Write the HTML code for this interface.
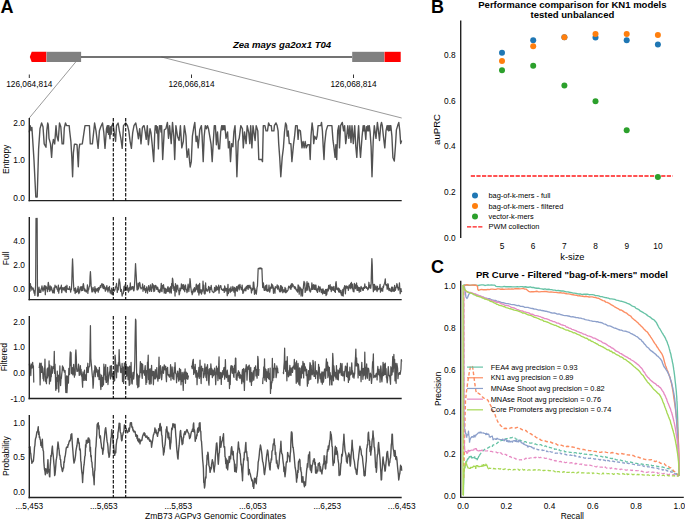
<!DOCTYPE html>
<html><head><meta charset="utf-8"><style>
html,body{margin:0;padding:0;background:#fff;width:685px;height:519px;overflow:hidden}
svg{display:block;font-family:"Liberation Sans", sans-serif}
</style></head><body>
<svg width="685" height="519" viewBox="0 0 685 519">
<rect width="685" height="519" fill="#fff"/>
<text x="0.4" y="12.9" font-size="18" text-anchor="start" font-weight="bold" fill="#000">A</text>
<polygon points="31.7,51.8 46.4,51.8 46.4,62 31.7,62 29.8,57" fill="#ff0000"/>
<rect x="46.6" y="51.8" width="34.5" height="10.2" fill="#808080"/>
<line x1="81" y1="57" x2="352.2" y2="57" stroke="#444" stroke-width="1.5"/>
<rect x="352.2" y="51.8" width="32" height="10.2" fill="#808080"/>
<rect x="384.5" y="51.8" width="16.2" height="10.2" fill="#ff0000"/>
<text x="282" y="48.2" font-size="9.55" text-anchor="middle" font-weight="bold" font-style="italic" fill="#000">Zea mays ga2ox1 T04</text>
<line x1="29.3" y1="74.5" x2="29.3" y2="78" stroke="#000" stroke-width="0.8"/>
<text x="29.3" y="86.5" font-size="8.3" text-anchor="middle" fill="#000">126,064,814</text>
<line x1="191.5" y1="74.5" x2="191.5" y2="78" stroke="#000" stroke-width="0.8"/>
<text x="191.5" y="86.5" font-size="8.3" text-anchor="middle" fill="#000">126,066,814</text>
<line x1="353.5" y1="74.5" x2="353.5" y2="78" stroke="#000" stroke-width="0.8"/>
<text x="353.5" y="86.5" font-size="8.3" text-anchor="middle" fill="#000">126,068,814</text>
<line x1="75.7" y1="62" x2="29.3" y2="118" stroke="#555" stroke-width="0.6"/>
<line x1="161.5" y1="57" x2="401.7" y2="118" stroke="#555" stroke-width="0.6"/>
<polyline points="29.30,132.34 30.20,125.61 31.10,130.47 31.90,127.48 33.30,149.14 34.00,160.35 35.80,196.95 37.20,196.95 38.60,149.14 40.00,128.60 41.60,123.00 43.00,126.73 44.20,143.92 46.00,147.28 46.80,130.47 47.70,123.00 48.30,124.87 49.00,138.31 50.50,143.92 51.60,157.36 52.40,145.41 53.40,139.43 54.70,143.92 56.00,125.61 56.90,136.07 58.20,140.93 59.50,123.00 60.80,126.73 62.10,143.92 63.50,143.92 64.30,127.86 65.50,123.00 66.50,125.61 69.20,125.61 69.60,130.47 70.90,141.67 71.80,156.61 72.60,176.78 73.40,152.88 74.40,144.29 75.70,144.29 77.00,144.66 78.30,166.70 79.00,149.14 79.70,144.29 82.30,143.92 83.20,137.94 85.00,125.61 89.40,125.61 90.30,143.92 92.40,143.92 94.60,123.00 96.00,130.84 98.10,148.40 99.40,130.84 100.80,126.73 102.50,123.00 103.80,132.52 105.00,148.40 106.50,128.60 107.30,125.61 107.70,132.34 108.10,125.61 108.50,134.20 108.90,125.61 109.30,132.34 110.00,138.69 110.40,128.60 110.70,126.73 111.10,134.20 111.40,132.34 111.80,125.61 112.10,125.61 113.00,123.00 114.30,132.52 115.60,141.30 116.50,125.61 118.10,123.00 119.30,130.47 120.90,138.69 122.20,148.40 123.50,125.61 125.70,123.00 127.50,125.61 128.80,130.84 130.10,141.30 131.40,148.40 132.70,132.52 134.00,125.61 135.80,123.00 137.50,132.52 138.40,138.69 139.70,128.60 141.00,143.92 142.40,127.48 143.70,125.61 144.10,125.60 145.20,131.96 146.20,139.38 147.30,125.60 148.40,144.68 150.00,128.78 151.00,133.02 152.10,143.62 153.70,161.64 154.70,134.08 155.30,125.60 155.80,129.84 156.30,125.60 156.80,133.02 157.30,126.66 157.80,134.08 158.40,148.92 159.00,130.90 159.50,125.60 160.00,128.78 160.50,125.60 161.00,131.96 161.60,125.60 162.70,159.52 164.30,129.84 165.90,128.78 167.40,122.42 168.50,138.32 169.60,125.60 171.20,143.62 172.50,122.42 173.80,136.20 174.70,159.52 175.90,125.60 177.50,136.20 179.10,140.44 180.40,125.60 181.80,147.86 183.30,141.50 184.40,125.60 186.00,136.20 186.50,148.92 187.10,157.40 188.60,148.92 189.20,157.40 190.20,166.95 191.30,161.64 192.40,136.20 193.90,126.66 194.80,122.42 196.10,141.50 197.10,136.20 198.20,147.86 199.80,129.84 201.40,125.60 202.10,136.20 203.20,161.64 204.20,136.20 205.30,125.60 206.40,128.78 207.40,125.60 208.50,128.78 210.10,138.32 211.10,144.68 212.20,161.64 213.30,141.50 214.30,125.60 215.40,125.60 216.40,144.68 217.50,131.96 218.60,148.92 219.60,148.92 220.70,131.96 221.70,125.60 222.30,129.84 222.80,125.60 223.30,129.31 223.80,125.60 224.40,129.84 224.90,125.60 226.00,138.32 227.60,131.96 228.40,147.86 229.50,141.50 230.50,161.64 231.60,143.62 232.90,146.80 233.90,131.96 235.00,125.60 236.00,146.80 236.90,176.80 238.20,141.50 239.20,138.32 240.80,125.60 242.40,128.78 243.30,147.86 244.50,131.96 246.10,143.62 247.20,125.60 248.80,133.02 249.80,143.62 250.70,125.60 251.90,147.86 253.00,125.60 255.10,140.44 256.20,125.60 257.80,130.90 258.80,159.52 261.70,159.52 262.50,161.64 263.30,125.60 264.90,125.60 266.00,130.90 267.50,130.90 268.60,122.95 269.70,125.60 271.30,125.60 271.80,130.90 273.90,130.90 274.40,125.60 276.00,122.95 277.10,125.60 278.10,130.90 278.70,143.62 279.70,157.40 280.80,176.80 282.20,157.40 283.40,147.86 284.50,131.96 285.60,122.95 286.60,125.60 287.20,136.20 288.20,130.90 289.30,143.62 290.90,143.62 291.90,161.64 293.50,144.68 294.60,136.20 295.60,125.60 297.20,125.60 298.10,139.38 298.80,129.84 300.40,130.90 302.00,147.86 303.10,141.50 304.10,147.86 305.20,141.50 306.20,147.86 307.80,144.68 309.40,144.68 310.20,159.52 311.00,136.20 312.10,122.95 313.10,130.90 313.70,143.62 314.70,136.20 316.30,139.38 317.10,136.20 318.10,125.60 320.80,125.60 321.50,122.42 322.40,130.90 323.20,146.80 324.00,159.52 324.70,143.62 326.10,130.90 327.70,125.60 331.90,125.60 333.00,140.44 334.00,147.86 335.10,157.40 335.90,144.68 336.70,159.52 337.70,130.90 338.80,125.60 339.50,147.86 340.60,125.60 342.30,122.42 343.60,130.90 344.60,125.60 345.70,143.62 346.70,136.20 347.80,125.60 348.90,138.32 349.90,125.60 351.00,142.56 352.00,125.60 353.30,143.62 354.70,125.60 355.80,146.80 356.80,157.40 357.90,136.20 358.60,125.60 359.70,146.80 360.50,157.40 362.10,136.20 363.20,125.60 363.80,130.90 364.40,125.60 365.10,131.96 365.80,139.38 366.50,126.66 367.20,130.90 367.90,125.60 368.60,130.90 369.30,125.60 370.10,131.96 371.10,146.80 372.00,176.80 373.20,141.50 374.30,125.60 376.00,138.32 377.40,122.42 378.10,127.72 379.50,140.44 380.70,125.60 381.50,122.42 382.30,125.60 383.40,136.20 384.80,147.86 386.00,130.90 387.10,125.60 387.60,129.84 388.10,125.60 388.70,130.90 389.20,125.60 389.80,130.37 390.30,125.60 390.80,125.60 391.90,136.20 392.90,157.40 394.30,161.11 395.40,146.80 396.40,129.84 397.70,125.60 398.80,122.42 399.80,130.90 400.70,143.62 401.60,140.44" fill="none" stroke="#525252" stroke-width="1.4" stroke-linejoin="round"/>
<line x1="29.3" y1="118" x2="29.3" y2="201.29999999999998" stroke="#222" stroke-width="1.4"/>
<line x1="28.6" y1="200.6" x2="401.7" y2="200.6" stroke="#222" stroke-width="1.4"/>
<text x="24.9" y="125.99999999999999" font-size="8.3" text-anchor="end" fill="#000">2.0</text>
<text x="24.9" y="163.35" font-size="8.3" text-anchor="end" fill="#000">1.0</text>
<text x="24.9" y="200.7" font-size="8.3" text-anchor="end" fill="#000">0.0</text>
<text x="9.0" y="159.3" font-size="8.5" text-anchor="middle" transform="rotate(-90 9.0 159.3)" fill="#000">Entropy</text>
<line x1="113.3" y1="118" x2="113.3" y2="200.6" stroke="#000" stroke-width="1.1" stroke-dasharray="3.5,1.5"/>
<line x1="125.7" y1="118" x2="125.7" y2="200.6" stroke="#000" stroke-width="1.1" stroke-dasharray="3.5,1.5"/>
<polyline points="29.30,288.61 29.67,289.16 30.05,291.14 30.42,283.59 30.79,287.82 31.16,286.24 31.54,286.86 31.91,290.08 32.28,288.30 32.65,287.98 33.03,287.98 33.40,288.92 33.77,291.05 34.15,293.14 34.52,290.76 34.89,295.48 35.26,290.80 35.64,285.00 36.01,218.40 36.38,218.54 36.76,220.01 37.13,218.40 37.50,296.04 37.87,294.87 38.25,296.03 38.62,289.43 38.99,287.09 39.36,292.29 39.74,289.81 40.11,292.37 40.48,290.68 40.86,292.45 41.23,288.59 41.60,288.25 41.97,285.76 42.35,288.89 42.72,290.03 43.09,291.27 43.47,287.76 43.84,289.52 44.21,285.79 44.58,289.86 44.96,285.63 45.33,294.64 45.70,289.23 46.07,286.32 46.45,288.34 46.82,287.72 47.19,287.84 47.57,291.61 47.94,285.74 48.31,282.42 48.68,284.63 49.06,289.34 49.43,288.29 49.80,291.30 50.18,285.84 50.55,288.54 50.92,290.05 51.29,286.87 51.67,288.14 52.04,289.57 52.41,291.66 52.78,292.90 53.16,290.52 53.53,292.74 53.90,287.96 54.28,293.02 54.65,288.55 55.02,285.08 55.39,286.71 55.77,286.35 56.14,287.49 56.51,286.26 56.89,288.41 57.26,289.51 57.63,289.22 58.00,291.46 58.38,285.08 58.75,293.11 59.12,288.32 59.49,289.86 59.87,288.95 60.24,287.37 60.61,287.55 60.99,288.76 61.36,285.21 61.73,292.66 62.10,290.28 62.48,288.40 62.85,287.61 63.22,288.10 63.60,289.87 63.97,289.37 64.34,287.46 64.71,289.53 65.09,291.19 65.46,286.46 65.83,286.34 66.20,292.50 66.58,288.79 66.95,285.25 67.32,289.16 67.70,288.66 68.07,289.28 68.44,289.45 68.81,288.53 69.19,289.30 69.56,286.65 69.93,289.66 70.31,289.09 70.68,292.06 71.05,289.25 71.42,289.55 71.80,281.83 72.17,268.46 72.54,258.85 72.91,266.71 73.29,279.76 73.66,286.53 74.03,290.75 74.41,289.94 74.78,288.68 75.15,293.51 75.52,287.77 75.90,291.58 76.27,292.47 76.64,291.83 77.01,291.38 77.39,288.99 77.76,291.73 78.13,286.38 78.51,292.02 78.88,293.68 79.25,289.94 79.62,292.15 80.00,287.93 80.37,287.03 80.74,286.85 81.12,289.50 81.49,290.74 81.86,286.67 82.23,288.63 82.61,290.44 82.98,285.50 83.35,283.55 83.72,285.72 84.10,288.86 84.47,291.00 84.84,288.98 85.22,290.65 85.59,291.29 85.96,290.09 86.33,292.11 86.71,290.46 87.08,289.67 87.45,284.81 87.83,293.32 88.20,289.29 88.57,289.88 88.94,287.94 89.32,286.31 89.69,286.12 90.06,276.43 90.43,271.52 90.81,278.62 91.18,285.64 91.55,288.69 91.93,291.85 92.30,291.88 92.67,289.94 93.04,287.26 93.42,289.98 93.79,289.45 94.16,291.54 94.54,290.92 94.91,286.69 95.28,293.03 95.65,289.16 96.03,288.87 96.40,289.21 96.77,291.04 97.14,288.83 97.52,288.44 97.89,288.37 98.26,292.21 98.64,287.55 99.01,290.04 99.38,288.80 99.75,287.79 100.13,286.40 100.50,285.53 100.87,287.72 101.25,284.95 101.62,284.73 101.99,283.56 102.36,284.67 102.74,287.34 103.11,288.23 103.48,284.33 103.85,288.68 104.23,285.99 104.60,286.80 104.97,288.34 105.35,291.19 105.72,290.38 106.09,287.84 106.46,286.90 106.84,285.66 107.21,289.69 107.58,289.73 107.96,291.90 108.33,287.54 108.70,290.09 109.07,288.70 109.45,286.31 109.82,290.98 110.19,292.87 110.56,290.45 110.94,293.09 111.31,293.90 111.68,288.09 112.06,289.85 112.43,294.53 112.80,290.14 113.17,289.76 113.55,290.69 113.92,290.45 114.29,291.10 114.66,289.51 115.04,289.78 115.41,286.84 115.78,286.85 116.16,286.39 116.53,283.47 116.90,287.87 117.27,292.49 117.65,289.17 118.02,287.74 118.39,289.81 118.77,282.43 119.14,278.78 119.51,280.81 119.88,282.68 120.26,286.93 120.63,291.48 121.00,289.74 121.37,289.38 121.75,292.40 122.12,296.04 122.49,294.15 122.87,293.64 123.24,293.71 123.61,290.56 123.98,286.47 124.36,289.70 124.73,290.75 125.10,284.95 125.48,287.93 125.85,290.16 126.22,287.20 126.59,287.55 126.97,290.23 127.34,285.39 127.71,288.52 128.08,290.15 128.46,292.14 128.83,288.16 129.20,290.79 129.58,287.43 129.95,287.77 130.32,282.96 130.69,289.94 131.07,287.06 131.44,288.69 131.81,289.09 132.19,286.53 132.56,286.99 132.93,286.58 133.30,289.32 133.68,290.92 134.05,290.12 134.42,285.97 134.79,280.33 135.17,271.90 135.54,263.55 135.91,270.21 136.29,276.50 136.66,284.73 137.03,289.81 137.40,289.89 137.78,289.98 138.15,283.13 138.52,288.74 138.90,284.24 139.27,285.92 139.64,282.47 140.01,283.85 140.39,287.52 140.76,287.87 141.13,288.92 141.50,287.77 141.88,287.90 142.25,287.93 142.62,284.00 143.00,291.29 143.37,288.05 143.74,289.32 144.11,287.21 144.49,285.55 144.86,290.35 145.23,288.65 145.61,292.52 145.98,288.68 146.35,290.70 146.72,286.88 147.10,289.44 147.47,293.19 147.84,290.14 148.21,290.08 148.59,285.58 148.96,288.72 149.33,288.79 149.71,291.43 150.08,287.31 150.45,284.88 150.82,287.82 151.20,289.95 151.57,291.48 151.94,287.62 152.32,283.52 152.69,287.97 153.06,284.51 153.43,286.73 153.81,291.53 154.18,285.57 154.55,291.06 154.92,289.10 155.30,286.32 155.67,285.30 156.04,286.25 156.42,287.32 156.79,289.45 157.16,289.41 157.53,287.08 157.91,288.14 158.28,291.50 158.65,290.84 159.02,289.94 159.40,292.54 159.77,290.50 160.14,292.02 160.52,289.08 160.89,288.39 161.26,283.40 161.63,291.15 162.01,291.70 162.38,285.45 162.75,288.21 163.13,287.44 163.50,284.62 163.87,288.13 164.24,293.13 164.62,291.51 164.99,288.20 165.36,288.43 165.73,293.33 166.11,292.84 166.48,289.07 166.85,289.54 167.23,291.27 167.60,287.66 167.97,286.67 168.34,291.73 168.72,289.92 169.09,287.81 169.46,290.34 169.84,292.89 170.21,289.19 170.58,286.90 170.95,286.44 171.33,293.05 171.70,283.33 172.07,288.60 172.44,278.19 172.82,279.48 173.19,284.37 173.56,286.76 173.94,290.36 174.31,286.98 174.68,288.87 175.05,296.04 175.43,283.70 175.80,285.11 176.17,285.89 176.55,291.98 176.92,286.77 177.29,285.71 177.66,285.27 178.04,289.17 178.41,290.21 178.78,290.26 179.15,294.78 179.53,293.88 179.90,288.07 180.27,290.94 180.65,289.82 181.02,288.60 181.39,283.85 181.76,286.17 182.14,288.46 182.51,284.96 182.88,288.34 183.26,289.39 183.63,284.63 184.00,290.18 184.37,287.13 184.75,291.61 185.12,285.96 185.49,285.02 185.86,288.70 186.24,289.30 186.61,289.87 186.98,292.67 187.36,291.18 187.73,287.31 188.10,284.20 188.47,286.39 188.85,291.57 189.22,287.27 189.59,287.37 189.97,278.57 190.34,281.51 190.71,286.47 191.08,289.11 191.46,292.30 191.83,291.99 192.20,294.73 192.57,291.06 192.95,293.00 193.32,289.14 193.69,291.10 194.07,289.70 194.44,287.73 194.81,291.90 195.18,289.65 195.56,290.96 195.93,287.08 196.30,284.19 196.67,287.15 197.05,289.34 197.42,285.91 197.79,292.05 198.17,284.83 198.54,290.71 198.91,295.06 199.28,285.28 199.66,283.34 200.03,292.92 200.40,289.73 200.78,290.37 201.15,289.78 201.52,294.08 201.89,292.27 202.27,290.21 202.64,291.17 203.01,281.22 203.38,289.36 203.76,285.23 204.13,293.11 204.50,290.89 204.88,294.09 205.25,293.16 205.62,282.94 205.99,290.45 206.37,288.69 206.74,289.89 207.11,291.42 207.49,290.04 207.86,290.93 208.23,288.96 208.60,286.49 208.98,286.79 209.35,290.05 209.72,292.57 210.09,287.70 210.47,289.61 210.84,288.19 211.21,285.32 211.59,288.98 211.96,290.34 212.33,291.59 212.70,291.84 213.08,291.99 213.45,292.43 213.82,292.59 214.20,291.69 214.57,287.41 214.94,290.03 215.31,291.11 215.69,291.06 216.06,285.52 216.43,290.18 216.80,286.56 217.18,289.39 217.55,287.65 217.92,289.81 218.30,287.93 218.67,285.13 219.04,293.11 219.41,288.43 219.79,287.12 220.16,287.14 220.53,285.62 220.91,285.88 221.28,289.25 221.65,288.47 222.02,289.74 222.40,289.56 222.77,290.42 223.14,289.34 223.51,290.24 223.89,288.75 224.26,292.43 224.63,285.98 225.01,287.16 225.38,288.84 225.75,291.01 226.12,289.95 226.50,288.33 226.87,289.83 227.24,295.63 227.62,289.21 227.99,284.26 228.36,293.71 228.73,289.38 229.11,290.10 229.48,290.47 229.85,288.31 230.22,292.50 230.60,290.01 230.97,286.76 231.34,291.19 231.72,291.05 232.09,289.68 232.46,289.64 232.83,286.45 233.21,290.62 233.58,288.69 233.95,292.17 234.33,287.30 234.70,290.32 235.07,296.04 235.44,288.07 235.82,290.18 236.19,290.34 236.56,286.59 236.93,291.10 237.31,291.25 237.68,286.70 238.05,288.08 238.43,285.15 238.80,287.03 239.17,289.83 239.54,286.74 239.92,284.36 240.29,286.64 240.66,287.19 241.03,288.64 241.41,289.77 241.78,289.74 242.15,285.17 242.53,289.77 242.90,293.41 243.27,292.41 243.64,292.23 244.02,289.35 244.39,290.41 244.76,289.18 245.14,287.79 245.51,290.69 245.88,290.79 246.25,286.67 246.63,288.74 247.00,286.83 247.37,285.49 247.74,286.18 248.12,289.41 248.49,285.45 248.86,287.04 249.24,287.70 249.61,286.14 249.98,285.25 250.35,288.30 250.73,287.22 251.10,289.25 251.47,292.84 251.85,289.47 252.22,288.76 252.59,290.05 252.96,289.10 253.34,282.15 253.71,282.22 254.08,286.53 254.45,294.26 254.83,288.46 255.20,293.09 255.57,290.25 255.95,290.25 256.32,294.14 256.69,290.85 257.06,287.16 257.44,286.20 257.81,277.38 258.18,268.56 258.56,268.47 258.93,268.25 259.30,268.15 259.67,268.90 260.05,267.95 260.42,268.31 260.79,268.21 261.16,268.86 261.54,268.26 261.91,268.56 262.28,277.98 262.66,287.40 263.03,287.56 263.40,282.98 263.77,286.29 264.15,290.30 264.52,288.27 264.89,290.33 265.27,286.48 265.64,285.64 266.01,287.71 266.38,290.67 266.76,284.94 267.13,290.84 267.50,289.33 267.87,291.36 268.25,290.66 268.62,289.85 268.99,285.23 269.37,289.63 269.74,292.09 270.11,290.16 270.48,287.70 270.86,286.80 271.23,288.03 271.60,283.97 271.98,288.02 272.35,284.89 272.72,285.39 273.09,287.02 273.47,293.27 273.84,288.21 274.21,289.58 274.58,289.46 274.96,293.09 275.33,286.62 275.70,288.16 276.08,287.57 276.45,287.02 276.82,286.95 277.19,284.97 277.57,289.07 277.94,287.62 278.31,285.82 278.68,287.60 279.06,289.84 279.43,290.72 279.80,291.86 280.18,290.22 280.55,285.70 280.92,291.75 281.29,285.80 281.67,287.96 282.04,290.58 282.41,287.10 282.79,292.65 283.16,291.94 283.53,291.02 283.90,289.75 284.28,290.93 284.65,291.81 285.02,287.37 285.39,292.60 285.77,288.60 286.14,292.57 286.51,290.54 286.89,291.65 287.26,291.35 287.63,290.54 288.00,290.23 288.38,287.71 288.75,286.15 289.12,286.33 289.50,287.45 289.87,287.14 290.24,288.84 290.61,285.33 290.99,289.30 291.36,284.00 291.73,287.49 292.10,283.62 292.48,286.32 292.85,284.45 293.22,285.68 293.60,286.01 293.97,286.80 294.34,288.15 294.71,286.55 295.09,288.76 295.46,287.21 295.83,288.80 296.21,289.95 296.58,290.17 296.95,291.20 297.32,289.49 297.70,292.04 298.07,284.91 298.44,288.17 298.81,285.92 299.19,294.17 299.56,288.59 299.93,287.16 300.31,289.66 300.68,288.18 301.05,296.04 301.42,289.22 301.80,292.96 302.17,289.87 302.54,296.03 302.92,289.18 303.29,288.66 303.66,283.98 304.03,281.44 304.41,284.80 304.78,282.86 305.15,292.45 305.52,291.60 305.90,288.25 306.27,290.56 306.64,285.21 307.02,281.70 307.39,286.81 307.76,290.17 308.13,283.84 308.51,283.19 308.88,286.07 309.25,286.57 309.63,290.88 310.00,290.19 310.37,292.00 310.74,290.97 311.12,288.20 311.49,289.38 311.86,282.95 312.23,287.71 312.61,289.49 312.98,285.48 313.35,284.64 313.73,286.35 314.10,289.46 314.47,286.35 314.84,284.87 315.22,289.43 315.59,289.01 315.96,285.20 316.34,290.40 316.71,290.99 317.08,289.37 317.45,292.36 317.83,288.36 318.20,288.98 318.57,286.22 318.94,287.38 319.32,291.72 319.69,288.09 320.06,286.86 320.44,289.13 320.81,289.34 321.18,292.28 321.55,292.29 321.93,289.16 322.30,293.01 322.67,294.00 323.04,288.92 323.42,290.72 323.79,290.62 324.16,293.38 324.54,292.51 324.91,293.36 325.28,290.40 325.65,289.48 326.03,295.55 326.40,289.41 326.77,294.53 327.15,291.40 327.52,289.26 327.89,288.74 328.26,290.93 328.64,285.26 329.01,289.11 329.38,287.32 329.75,287.06 330.13,284.70 330.50,289.31 330.87,287.00 331.25,291.53 331.62,286.90 331.99,290.32 332.36,288.92 332.74,287.04 333.11,289.18 333.48,290.42 333.86,286.40 334.23,289.18 334.60,291.29 334.97,289.60 335.35,292.45 335.72,283.47 336.09,281.53 336.46,285.44 336.84,289.49 337.21,288.29 337.58,289.92 337.96,288.30 338.33,288.03 338.70,291.87 339.07,289.16 339.45,288.85 339.82,292.29 340.19,290.25 340.57,292.99 340.94,290.42 341.31,294.99 341.68,292.39 342.06,295.63 342.43,293.60 342.80,289.36 343.17,296.04 343.55,290.43 343.92,287.75 344.29,287.97 344.67,285.63 345.04,288.47 345.41,293.79 345.78,287.36 346.16,285.85 346.53,286.30 346.90,288.13 347.28,286.33 347.65,288.00 348.02,287.34 348.39,290.31 348.77,286.66 349.14,285.08 349.51,287.52 349.88,284.96 350.26,288.68 350.63,283.51 351.00,287.32 351.38,282.44 351.75,286.67 352.12,288.67 352.49,284.12 352.87,289.26 353.24,291.40 353.61,289.58 353.99,291.81 354.36,283.35 354.73,285.29 355.10,284.83 355.48,288.66 355.85,285.74 356.22,284.99 356.59,282.99 356.97,290.34 357.34,285.71 357.71,286.46 358.09,290.44 358.46,287.56 358.83,287.90 359.20,292.09 359.58,287.63 359.95,289.02 360.32,288.35 360.69,291.42 361.07,286.40 361.44,287.82 361.81,288.42 362.19,287.86 362.56,290.16 362.93,288.63 363.30,290.30 363.68,287.27 364.05,287.89 364.42,288.35 364.80,283.99 365.17,287.73 365.54,287.70 365.91,287.24 366.29,286.60 366.66,288.28 367.03,287.96 367.40,287.81 367.78,289.92 368.15,288.65 368.52,288.93 368.90,282.25 369.27,285.33 369.64,287.09 370.01,287.97 370.39,285.04 370.76,288.28 371.13,284.24 371.51,268.81 371.88,258.64 372.25,264.96 372.62,282.57 373.00,285.58 373.37,291.62 373.74,284.56 374.11,289.91 374.49,284.33 374.86,290.04 375.23,289.11 375.61,289.03 375.98,285.99 376.35,289.86 376.72,289.98 377.10,291.52 377.47,286.25 377.84,290.16 378.22,288.74 378.59,288.55 378.96,289.09 379.33,288.88 379.71,286.65 380.08,284.36 380.45,292.15 380.82,290.03 381.20,289.76 381.57,288.20 381.94,290.90 382.32,289.23 382.69,291.21 383.06,286.42 383.43,287.66 383.81,285.37 384.18,284.24 384.55,283.47 384.93,281.53 385.30,278.96 385.67,284.43 386.04,285.32 386.42,284.53 386.79,285.22 387.16,289.25 387.53,288.91 387.91,283.62 388.28,284.55 388.65,289.13 389.03,290.72 389.40,289.83 389.77,288.32 390.14,290.16 390.52,290.15 390.89,291.33 391.26,291.64 391.64,287.11 392.01,289.54 392.38,291.17 392.75,287.16 393.13,289.59 393.50,290.75 393.87,291.33 394.24,291.46 394.62,285.30 394.99,287.83 395.36,290.46 395.74,288.54 396.11,287.33 396.48,287.03 396.85,283.65 397.23,284.75 397.60,287.85 397.97,287.28 398.35,290.08 398.72,288.48 399.09,287.59 399.46,282.76 399.84,288.95 400.21,293.59 400.58,289.94 400.95,288.62 401.33,291.74 401.70,290.75" fill="none" stroke="#525252" stroke-width="1.25" stroke-linejoin="round"/>
<line x1="29.3" y1="217" x2="29.3" y2="300.3" stroke="#222" stroke-width="1.4"/>
<line x1="28.6" y1="299.6" x2="401.7" y2="299.6" stroke="#222" stroke-width="1.4"/>
<text x="24.9" y="243.60000000000002" font-size="8.3" text-anchor="end" fill="#000">4.0</text>
<text x="24.9" y="267.6" font-size="8.3" text-anchor="end" fill="#000">2.0</text>
<text x="24.9" y="291.6" font-size="8.3" text-anchor="end" fill="#000">0.0</text>
<text x="9.0" y="258.3" font-size="8.5" text-anchor="middle" transform="rotate(-90 9.0 258.3)" fill="#000">Full</text>
<line x1="113.3" y1="217" x2="113.3" y2="299.6" stroke="#000" stroke-width="1.1" stroke-dasharray="3.5,1.5"/>
<line x1="125.7" y1="217" x2="125.7" y2="299.6" stroke="#000" stroke-width="1.1" stroke-dasharray="3.5,1.5"/>
<polyline points="29.30,365.41 29.67,363.12 30.05,367.54 30.42,368.11 30.79,375.57 31.16,365.71 31.54,364.24 31.91,368.12 32.28,364.24 32.65,362.37 33.03,367.56 33.40,365.80 33.77,382.10 34.15,381.94" fill="none" stroke="#525252" stroke-width="1.25" stroke-linejoin="round"/>
<polyline points="38.99,367.85 39.36,366.63 39.74,363.20 40.11,384.95 40.48,372.39 40.86,363.74 41.23,363.22 41.60,372.46 41.97,366.04 42.35,366.75 42.72,372.25 43.09,378.63 43.47,377.11 43.84,380.98 44.21,367.76 44.58,374.47 44.96,359.01 45.33,376.40 45.70,381.73 46.07,377.46 46.45,383.60 46.82,374.91 47.19,368.76 47.57,377.98 47.94,367.87 48.31,375.83 48.68,374.59 49.06,360.77 49.43,383.94 49.80,365.02 50.18,369.57 50.55,381.22 50.92,376.62 51.29,376.75 51.67,366.17 52.04,371.21 52.41,373.25 52.78,370.64 53.16,366.72 53.53,368.38 53.90,367.95 54.28,351.36 54.65,373.40 55.02,364.09 55.39,374.54 55.77,390.34 56.14,385.33 56.51,377.61 56.89,388.72 57.26,371.01 57.63,380.60 58.00,381.41 58.38,375.10 58.75,392.09 59.12,379.05 59.49,379.09 59.87,365.91 60.24,377.96 60.61,385.55 60.99,378.91 61.36,378.40 61.73,374.14 62.10,371.10 62.48,365.76 62.85,370.10 63.22,367.06 63.60,368.87 63.97,370.21 64.34,372.07 64.71,370.56 65.09,370.63 65.46,383.73 65.83,392.50 66.20,385.17 66.58,375.99 66.95,392.70 67.32,386.05 67.70,376.10 68.07,381.37 68.44,383.08 68.81,368.44 69.19,368.79 69.56,374.54 69.93,358.93 70.31,351.77 70.68,365.55 71.05,352.69 71.42,373.29 71.80,371.51 72.17,373.93 72.54,367.67 72.91,374.88 73.29,368.73 73.66,364.29 74.03,369.46 74.41,377.18 74.78,369.22 75.15,375.11 75.52,355.00 75.90,349.96 76.27,356.71 76.64,368.79 77.01,371.37 77.39,370.54 77.76,371.20 78.13,368.95 78.51,364.12 78.88,367.67 79.25,375.38 79.62,373.00 80.00,374.67 80.37,365.54 80.74,372.58 81.12,369.26 81.49,376.04 81.86,374.22 82.23,381.30 82.61,387.13 82.98,371.96 83.35,380.48 83.72,376.63 84.10,378.66 84.47,370.12 84.84,380.48 85.22,374.69 85.59,376.57 85.96,378.81 86.33,380.47 86.71,367.49 87.08,372.48 87.45,369.05 87.83,363.25 88.20,372.50 88.57,368.37 88.94,367.26 89.32,366.45 89.69,366.14 90.06,348.43 90.43,325.74 90.81,358.04 91.18,362.63 91.55,366.63 91.93,371.34 92.30,375.42 92.67,378.43 93.04,388.23 93.42,383.64 93.79,373.77 94.16,370.68 94.54,371.62 94.91,365.68 95.28,376.73 95.65,366.70 96.03,372.18 96.40,367.76 96.77,371.53 97.14,369.55 97.52,374.71 97.89,376.53 98.26,373.16 98.64,370.16 99.01,379.53 99.38,367.29 99.75,379.40 100.13,374.14 100.50,385.16 100.87,389.50 101.25,384.24 101.62,375.16 101.99,384.13 102.36,386.40 102.74,377.30 103.11,382.19 103.48,384.97 103.85,364.01 104.23,374.87 104.60,373.03 104.97,367.23 105.35,379.83 105.72,364.58 106.09,382.30 106.46,382.34 106.84,376.49 107.21,381.07 107.58,367.32 107.96,384.54 108.33,380.16 108.70,377.33 109.07,374.85 109.45,371.89 109.82,373.02 110.19,366.05 110.56,378.91 110.94,369.53 111.31,365.54 111.68,373.39 112.06,376.80 112.43,373.50 112.80,374.16 113.17,379.65 113.55,374.20 113.92,381.40 114.29,371.35 114.66,380.47 115.04,355.08 115.41,358.66 115.78,367.26 116.16,371.71 116.53,377.82 116.90,364.83 117.27,367.24 117.65,365.63 118.02,372.03 118.39,362.67 118.77,365.73 119.14,349.62 119.51,361.27 119.88,364.15 120.26,366.66 120.63,372.21 121.00,372.71 121.37,368.46 121.75,370.53 122.12,363.43 122.49,381.56 122.87,367.04 123.24,367.30 123.61,383.37 123.98,376.95 124.36,363.00 124.73,374.89 125.10,372.82 125.48,364.74 125.85,365.94 126.22,364.42 126.59,376.21 126.97,370.38 127.34,366.82 127.71,372.66 128.08,379.68 128.46,367.01 128.83,372.24 129.20,385.47 129.58,366.17 129.95,384.26 130.32,366.94 130.69,377.29 131.07,362.30 131.44,375.87 131.81,383.23 132.19,384.02 132.56,377.38 132.93,372.51 133.30,372.33 133.68,379.05 134.05,375.47 134.42,369.87 134.79,362.00 135.17,335.54 135.54,319.16 135.91,320.58 136.29,346.40 136.66,376.36 137.03,384.76 137.40,374.05 137.78,387.65 138.15,375.75 138.52,384.44 138.90,386.56 139.27,375.45 139.64,377.23 140.01,368.66 140.39,361.53 140.76,372.61 141.13,365.88 141.50,363.37 141.88,375.27 142.25,378.32 142.62,364.20 143.00,372.42 143.37,372.96 143.74,371.91 144.11,370.53 144.49,375.16 144.86,368.74 145.23,365.69 145.61,375.60 145.98,384.42 146.35,370.68 146.72,382.40 147.10,377.60 147.47,362.09 147.84,364.72 148.21,355.24 148.59,379.61 148.96,369.34 149.33,384.01 149.71,377.92 150.08,368.69 150.45,373.64 150.82,384.05 151.20,383.35 151.57,365.36 151.94,375.55 152.32,372.85 152.69,371.40 153.06,375.99 153.43,384.65 153.81,371.40 154.18,376.55 154.55,376.02 154.92,378.93 155.30,369.66 155.67,378.70 156.04,370.68 156.42,376.72 156.79,367.51 157.16,377.39 157.53,377.32 157.91,381.21 158.28,377.79 158.65,369.61 159.02,357.06 159.40,378.56 159.77,377.84 160.14,371.75 160.52,365.74 160.89,371.07 161.26,372.90 161.63,379.77 162.01,375.63 162.38,367.79 162.75,366.79 163.13,372.32 163.50,373.31 163.87,368.37 164.24,364.96 164.62,365.55 164.99,369.77 165.36,368.81 165.73,366.36 166.11,376.93 166.48,381.70 166.85,368.30 167.23,368.55 167.60,367.40 167.97,374.77 168.34,375.57 168.72,374.56 169.09,376.45 169.46,377.10 169.84,375.19 170.21,373.48 170.58,364.72 170.95,380.12 171.33,371.54 171.70,376.09 172.07,366.87 172.44,370.32 172.82,378.66 173.19,373.20 173.56,375.48 173.94,379.64 174.31,367.10 174.68,372.63 175.05,362.62 175.43,370.09 175.80,373.77 176.17,373.70 176.55,382.60 176.92,375.93 177.29,376.45 177.66,371.12 178.04,374.71 178.41,378.37 178.78,381.16 179.15,373.85 179.53,368.31 179.90,379.70 180.27,370.74 180.65,369.68 181.02,384.78 181.39,377.75 181.76,381.44 182.14,372.46 182.51,375.02 182.88,382.06 183.26,390.36 183.63,374.03 184.00,372.05 184.37,375.28 184.75,379.15 185.12,368.93 185.49,383.26 185.86,372.63 186.24,372.14 186.61,378.72 186.98,378.08 187.36,373.25 187.73,379.32 188.10,377.77 188.47,375.48" fill="none" stroke="#525252" stroke-width="1.25" stroke-linejoin="round"/>
<polyline points="191.46,367.37 191.83,365.91 192.20,368.66 192.57,362.86 192.95,360.36 193.32,359.31 193.69,374.39 194.07,366.85 194.44,369.73 194.81,372.92 195.18,364.28 195.56,371.77 195.93,377.15 196.30,376.75 196.67,370.53 197.05,384.68 197.42,373.11 197.79,377.04 198.17,374.88 198.54,373.11 198.91,367.30 199.28,378.48 199.66,372.63 200.03,360.04 200.40,376.69 200.78,375.70 201.15,383.58 201.52,366.11 201.89,370.64 202.27,370.74 202.64,368.84 203.01,368.53 203.38,377.68 203.76,376.68 204.13,375.33 204.50,372.90 204.88,363.82 205.25,372.81 205.62,373.48 205.99,377.53 206.37,367.21 206.74,380.56 207.11,369.62 207.49,364.54 207.86,373.57 208.23,369.47 208.60,382.43 208.98,385.16 209.35,376.18 209.72,368.60 210.09,369.72 210.47,374.54 210.84,363.91 211.21,368.11 211.59,374.67 211.96,368.97 212.33,377.58 212.70,373.94 213.08,370.04 213.45,375.75 213.82,373.28 214.20,374.80 214.57,368.07 214.94,372.31 215.31,375.02 215.69,384.68 216.06,376.68 216.43,366.15 216.80,374.13 217.18,368.22 217.55,372.52 217.92,380.57 218.30,370.24 218.67,365.89 219.04,356.88 219.41,378.83 219.79,372.63 220.16,378.51 220.53,373.71 220.91,372.27 221.28,384.40 221.65,373.11 222.02,374.39 222.40,377.09 222.77,370.51 223.14,374.90 223.51,370.66 223.89,367.77 224.26,367.40 224.63,379.13 225.01,376.52 225.38,359.58 225.75,372.48 226.12,375.39 226.50,377.57 226.87,372.30 227.24,370.16 227.62,373.92 227.99,381.38 228.36,376.68 228.73,376.70 229.11,375.26 229.48,388.56 229.85,376.53 230.22,384.57 230.60,368.66 230.97,365.76 231.34,365.61 231.72,369.30 232.09,373.00 232.46,366.22 232.83,373.37 233.21,368.50 233.58,376.00 233.95,377.41 234.33,366.16 234.70,365.20 235.07,372.74 235.44,358.17 235.82,358.37 236.19,379.49 236.56,374.58 236.93,380.43 237.31,375.88 237.68,372.85 238.05,375.53 238.43,370.75 238.80,371.52 239.17,377.51 239.54,372.52 239.92,378.53 240.29,375.07 240.66,374.80 241.03,376.24 241.41,379.05 241.78,383.67 242.15,372.40 242.53,369.41 242.90,374.90 243.27,381.87 243.64,368.50 244.02,378.88 244.39,390.41 244.76,378.88 245.14,369.19 245.51,371.70 245.88,368.21 246.25,364.58 246.63,369.16 247.00,380.22 247.37,373.05 247.74,367.29 248.12,366.10 248.49,369.18 248.86,369.30 249.24,365.12 249.61,379.08 249.98,381.86 250.35,371.17 250.73,367.44 251.10,377.52 251.47,385.38 251.85,372.58 252.22,381.18 252.59,374.18 252.96,376.18 253.34,370.98 253.71,380.19 254.08,377.20 254.45,367.72 254.83,367.75 255.20,369.93 255.57,365.85 255.95,375.95 256.32,369.32 256.69,371.05 257.06,378.21 257.44,371.16 257.81,356.28 258.18,359.45 258.56,375.35 258.93,368.91" fill="none" stroke="#525252" stroke-width="1.25" stroke-linejoin="round"/>
<polyline points="262.66,384.16 263.03,377.76 263.40,377.68 263.77,366.76 264.15,377.53 264.52,358.83 264.89,380.20 265.27,368.52 265.64,375.84 266.01,369.51 266.38,381.50 266.76,371.91 267.13,372.63 267.50,377.54 267.87,371.57 268.25,368.54 268.62,378.82 268.99,373.38 269.37,379.15 269.74,379.37 270.11,368.12 270.48,393.48 270.86,382.40 271.23,388.72 271.60,381.66 271.98,382.80 272.35,358.33 272.72,380.69 273.09,370.51 273.47,368.46 273.84,377.63 274.21,370.07 274.58,363.62 274.96,368.44 275.33,368.81 275.70,368.51 276.08,377.53 276.45,375.46 276.82,365.98 277.19,370.17 277.57,368.22 277.94,372.89 278.31,372.56 278.68,372.37" fill="none" stroke="#525252" stroke-width="1.25" stroke-linejoin="round"/>
<polyline points="283.16,372.00 283.53,373.60 283.90,366.84 284.28,361.79 284.65,348.17 285.02,368.95 285.39,368.54 285.77,371.38 286.14,361.10 286.51,366.63 286.89,380.76 287.26,356.72 287.63,370.28 288.00,370.53 288.38,376.79 288.75,376.20 289.12,375.52 289.50,371.05 289.87,365.47 290.24,374.89 290.61,368.09 290.99,375.47 291.36,370.20 291.73,369.24 292.10,367.51 292.48,372.41 292.85,369.35 293.22,366.10 293.60,366.08 293.97,367.97 294.34,359.26 294.71,369.13 295.09,362.52 295.46,368.10 295.83,365.11 296.21,383.27 296.58,360.95 296.95,376.13 297.32,381.88 297.70,374.73 298.07,363.45 298.44,372.33 298.81,384.21 299.19,380.88 299.56,367.85 299.93,385.59 300.31,376.29 300.68,376.30 301.05,368.19 301.42,377.98 301.80,366.00 302.17,373.70 302.54,372.37 302.92,361.49 303.29,364.80 303.66,377.94 304.03,363.32 304.41,363.79 304.78,370.84 305.15,366.73 305.52,367.89 305.90,370.03 306.27,375.54 306.64,369.26 307.02,374.76 307.39,386.21 307.76,374.78 308.13,383.53 308.51,370.64 308.88,375.37 309.25,379.92 309.63,368.54 310.00,362.65 310.37,363.92 310.74,379.26 311.12,365.32 311.49,371.57 311.86,372.67 312.23,374.96 312.61,373.19 312.98,360.39 313.35,363.38 313.73,374.01 314.10,376.33 314.47,375.42 314.84,376.32 315.22,361.66 315.59,378.57 315.96,370.91 316.34,374.20 316.71,370.58 317.08,372.60 317.45,372.35 317.83,383.01 318.20,380.28 318.57,364.27 318.94,370.46 319.32,367.10 319.69,375.49 320.06,378.71 320.44,373.96 320.81,378.66 321.18,382.19 321.55,373.93 321.93,371.77 322.30,384.22 322.67,373.43 323.04,372.09 323.42,382.14 323.79,379.13 324.16,372.41 324.54,369.24 324.91,368.91 325.28,375.35 325.65,378.44 326.03,364.96 326.40,358.85 326.77,370.71 327.15,370.71 327.52,362.16 327.89,377.70 328.26,366.09 328.64,375.96 329.01,372.00 329.38,367.26 329.75,385.08 330.13,372.53 330.50,376.37 330.87,379.11 331.25,375.99 331.62,384.69 331.99,384.95 332.36,369.88 332.74,353.48 333.11,359.75 333.48,380.81 333.86,365.84 334.23,369.72 334.60,373.89 334.97,376.05 335.35,377.04 335.72,372.25 336.09,379.16 336.46,365.56 336.84,377.64 337.21,369.95 337.58,379.31 337.96,375.10 338.33,379.93 338.70,370.19 339.07,371.82 339.45,373.02 339.82,368.17 340.19,372.23 340.57,363.39 340.94,372.62 341.31,375.28 341.68,370.41 342.06,363.64 342.43,374.81 342.80,375.99 343.17,375.79 343.55,375.16 343.92,371.34 344.29,380.83 344.67,373.04 345.04,370.06 345.41,366.05 345.78,366.48 346.16,368.99 346.53,376.53 346.90,373.84 347.28,363.08 347.65,377.26 348.02,371.81 348.39,382.38 348.77,371.99 349.14,377.38 349.51,379.86 349.88,367.04 350.26,374.12 350.63,374.84 351.00,373.31 351.38,374.11 351.75,362.84 352.12,372.42 352.49,370.61 352.87,377.18 353.24,375.77 353.61,373.13 353.99,378.22 354.36,375.01 354.73,373.37 355.10,362.74 355.48,357.92 355.85,349.04 356.22,365.90 356.59,357.79 356.97,365.98 357.34,364.95 357.71,363.56 358.09,377.94 358.46,364.45 358.83,368.73 359.20,371.03 359.58,375.48 359.95,374.14 360.32,371.21 360.69,371.26 361.07,381.71 361.44,370.08 361.81,362.35 362.19,372.53 362.56,372.09 362.93,379.35 363.30,368.38 363.68,375.76 364.05,375.18 364.42,372.66 364.80,352.18 365.17,372.10 365.54,378.94 365.91,367.55 366.29,369.28 366.66,363.99 367.03,376.90 367.40,378.25 367.78,368.04 368.15,370.41 368.52,368.48 368.90,370.68 369.27,380.46 369.64,376.90 370.01,375.00 370.39,373.09 370.76,374.52 371.13,378.69 371.51,383.36 371.88,379.15 372.25,368.96 372.62,361.71 373.00,363.53 373.37,353.94 373.74,377.62 374.11,375.21 374.49,376.68 374.86,375.90 375.23,377.21 375.61,376.57 375.98,373.93 376.35,375.18 376.72,373.22 377.10,379.88 377.47,370.82 377.84,366.43 378.22,373.77 378.59,374.26 378.96,369.49 379.33,375.71 379.71,371.79 380.08,382.23 380.45,368.32 380.82,365.95 381.20,369.65 381.57,379.22 381.94,381.76 382.32,376.56 382.69,371.79 383.06,362.37 383.43,375.53 383.81,374.62 384.18,364.06 384.55,374.64 384.93,368.96 385.30,363.23 385.67,374.46 386.04,368.52 386.42,377.62 386.79,378.59 387.16,382.80 387.53,380.76 387.91,371.73 388.28,366.57 388.65,371.22 389.03,375.77 389.40,375.16 389.77,377.14 390.14,380.18 390.52,384.25 390.89,366.75 391.26,369.06 391.64,375.10 392.01,374.38 392.38,366.57 392.75,356.72 393.13,371.92 393.50,366.30 393.87,354.45 394.24,367.97 394.62,359.33 394.99,380.81 395.36,363.36 395.74,370.90 396.11,383.32 396.48,367.16 396.85,363.31 397.23,365.89 397.60,368.38 397.97,378.66 398.35,375.01 398.72,373.30 399.09,373.94 399.46,372.51 399.84,374.47 400.21,374.24 400.58,371.73 400.95,369.14 401.33,359.57 401.70,361.60" fill="none" stroke="#525252" stroke-width="1.25" stroke-linejoin="round"/>
<line x1="29.3" y1="315.9" x2="29.3" y2="399.2" stroke="#222" stroke-width="1.4"/>
<line x1="28.6" y1="398.5" x2="401.7" y2="398.5" stroke="#222" stroke-width="1.4"/>
<text x="24.9" y="324.8" font-size="8.3" text-anchor="end" fill="#000">2.0</text>
<text x="24.9" y="350.4" font-size="8.3" text-anchor="end" fill="#000">1.0</text>
<text x="24.9" y="376.0" font-size="8.3" text-anchor="end" fill="#000">0.0</text>
<text x="24.9" y="401.6" font-size="8.3" text-anchor="end" fill="#000">-1.0</text>
<text x="6.6" y="357.2" font-size="8.5" text-anchor="middle" transform="rotate(-90 6.6 357.2)" fill="#000">Filtered</text>
<line x1="113.3" y1="315.9" x2="113.3" y2="398.5" stroke="#000" stroke-width="1.1" stroke-dasharray="3.5,1.5"/>
<line x1="125.7" y1="315.9" x2="125.7" y2="398.5" stroke="#000" stroke-width="1.1" stroke-dasharray="3.5,1.5"/>
<polyline points="29.30,448.03 29.67,446.36 30.05,446.88 30.42,452.49 30.79,453.68 31.16,458.01 31.54,459.98 31.91,463.34 32.28,462.20 32.65,461.53 33.03,461.72 33.40,460.83 33.77,456.85 34.15,453.03 34.52,447.18 34.89,445.69 35.26,440.34 35.64,438.22 36.01,437.58 36.38,435.29 36.76,432.65 37.13,431.59 37.50,431.91 37.87,429.47 38.25,426.78 38.62,434.38 38.99,431.74 39.36,437.56 39.74,436.90 40.11,439.48 40.48,439.92 40.86,445.55 41.23,442.52 41.60,442.88 41.97,447.35 42.35,439.32 42.72,447.21 43.09,450.33 43.47,451.27 43.84,462.06 44.21,466.43 44.58,469.85 44.96,471.26 45.33,474.75 45.70,468.74 46.07,469.11 46.45,471.62 46.82,470.26 47.19,473.59 47.57,465.95 47.94,459.71 48.31,468.63 48.68,472.14 49.06,469.35 49.43,476.13 49.80,476.86 50.18,465.90 50.55,461.88 50.92,455.37 51.29,456.31 51.67,452.88 52.04,448.67 52.41,446.07 52.78,452.09 53.16,454.86 53.53,458.99 53.90,463.63 54.28,467.51 54.65,475.64 55.02,474.46 55.39,471.04 55.77,465.63 56.14,460.35 56.51,458.40 56.89,456.01 57.26,449.99 57.63,446.32 58.00,442.01 58.38,444.55 58.75,448.46 59.12,450.13 59.49,455.13 59.87,455.23 60.24,459.49 60.61,459.50 60.99,464.99 61.36,466.95 61.73,467.39 62.10,470.29 62.48,471.63 62.85,470.36 63.22,468.10 63.60,467.98 63.97,461.60 64.34,462.33 64.71,457.69 65.09,456.57 65.46,454.41 65.83,451.32 66.20,448.34 66.58,447.33 66.95,446.95 67.32,446.89 67.70,447.45 68.07,444.45 68.44,444.97 68.81,442.92 69.19,441.85 69.56,440.54 69.93,440.98 70.31,440.16 70.68,438.27 71.05,434.40 71.42,434.73 71.80,433.76 72.17,441.02 72.54,446.67 72.91,450.94 73.29,456.31 73.66,460.38 74.03,463.08 74.41,461.62 74.78,460.50 75.15,458.08 75.52,455.73 75.90,451.17 76.27,448.99 76.64,446.98 77.01,445.25 77.39,441.91 77.76,438.38 78.13,438.34 78.51,441.01 78.88,443.72 79.25,442.98 79.62,449.89 80.00,448.60 80.37,450.57 80.74,460.40 81.12,462.85 81.49,469.02 81.86,472.47 82.23,474.67 82.61,482.51 82.98,475.07 83.35,472.55 83.72,466.67 84.10,464.72 84.47,460.23 84.84,456.39 85.22,455.54 85.59,444.62 85.96,447.12 86.33,440.32 86.71,442.89 87.08,443.30 87.45,440.98 87.83,440.06 88.20,437.87 88.57,442.22 88.94,438.08 89.32,442.42 89.69,439.98 90.06,451.18 90.43,447.13 90.81,456.77 91.18,455.46 91.55,461.48 91.93,462.14 92.30,467.31 92.67,468.39 93.04,474.94 93.42,476.19 93.79,478.77 94.16,484.73 94.54,471.52 94.91,470.16 95.28,459.76 95.65,448.57 96.03,446.25 96.40,438.93 96.77,434.33 97.14,424.78 97.52,423.82 97.89,426.08 98.26,422.60 98.64,428.84 99.01,425.79 99.38,434.79 99.75,437.96 100.13,435.57 100.50,436.81 100.87,441.81 101.25,444.04 101.62,448.04 101.99,448.47 102.36,448.34 102.74,454.22 103.11,450.70 103.48,449.66 103.85,442.70 104.23,439.23 104.60,436.02 104.97,431.41 105.35,428.77 105.72,427.61 106.09,430.99 106.46,434.31 106.84,439.06 107.21,441.93 107.58,443.38 107.96,446.59 108.33,452.45 108.70,454.23 109.07,457.37 109.45,456.09 109.82,453.49 110.19,447.07 110.56,443.51 110.94,437.83 111.31,437.34 111.68,429.58 112.06,434.77 112.43,433.21 112.80,436.75 113.17,443.21 113.55,444.71 113.92,449.17 114.29,453.03 114.66,455.29 115.04,453.02 115.41,450.91 115.78,452.77 116.16,444.80 116.53,442.52 116.90,439.44 117.27,438.83 117.65,437.94 118.02,432.09 118.39,430.84 118.77,427.12 119.14,423.08 119.51,425.57 119.88,423.38 120.26,431.89 120.63,432.83 121.00,433.83 121.37,439.24 121.75,440.76 122.12,440.01 122.49,435.37 122.87,435.16 123.24,432.68 123.61,432.08 123.98,430.56 124.36,425.02 124.73,425.56 125.10,426.42 125.48,428.59 125.85,428.61 126.22,428.54 126.59,430.65 126.97,431.05 127.34,432.52 127.71,432.48 128.08,430.77 128.46,430.81 128.83,428.30 129.20,431.28 129.58,428.71 129.95,426.91 130.32,423.03 130.69,422.60 131.07,422.60 131.44,422.62 131.81,426.70 132.19,427.70 132.56,427.04 132.93,430.05 133.30,431.12 133.68,430.43 134.05,431.98 134.42,431.91 134.79,431.38 135.17,431.73 135.54,434.29 135.91,436.34 136.29,434.75 136.66,435.45 137.03,438.66 137.40,435.52 137.78,440.70 138.15,438.66 138.52,440.70 138.90,442.14 139.27,438.96 139.64,439.87 140.01,443.81 140.39,440.70 140.76,440.17 141.13,440.28 141.50,440.67 141.88,440.47 142.25,437.87 142.62,436.14 143.00,435.07 143.37,433.91 143.74,433.80 144.11,432.60 144.49,435.36 144.86,433.39 145.23,435.48 145.61,436.87 145.98,437.28 146.35,436.77 146.72,435.88 147.10,436.32 147.47,437.96 147.84,438.99 148.21,438.19 148.59,437.56 148.96,438.62 149.33,440.27 149.71,441.22 150.08,439.88 150.45,441.38 150.82,440.86 151.20,442.43 151.57,447.23 151.94,444.43 152.32,442.24 152.69,440.02 153.06,437.43 153.43,434.77 153.81,434.40 154.18,432.55 154.55,432.39 154.92,427.92 155.30,430.84 155.67,432.70 156.04,429.87 156.42,433.47 156.79,432.31 157.16,435.03 157.53,436.39 157.91,433.53 158.28,432.81 158.65,428.58 159.02,429.63 159.40,430.68 159.77,424.84 160.14,423.34 160.52,426.02 160.89,430.85 161.26,426.98 161.63,434.92 162.01,435.72 162.38,442.16 162.75,446.91 163.13,448.10 163.50,455.02 163.87,452.16 164.24,452.03 164.62,446.19 164.99,445.12 165.36,440.83 165.73,436.14 166.11,429.44 166.48,429.07 166.85,426.71 167.23,431.85 167.60,431.35 167.97,437.70 168.34,436.99 168.72,433.01 169.09,439.40 169.46,437.12 169.84,445.93 170.21,449.00 170.58,444.19 170.95,442.44 171.33,434.11 171.70,428.31 172.07,429.89 172.44,428.43 172.82,423.94 173.19,423.74 173.56,424.35 173.94,425.10 174.31,427.45 174.68,424.08 175.05,424.34 175.43,430.01 175.80,435.83 176.17,439.13 176.55,446.09 176.92,450.55 177.29,453.60 177.66,457.71 178.04,458.99 178.41,452.41 178.78,448.29 179.15,445.44 179.53,440.44 179.90,435.88 180.27,431.51 180.65,430.46 181.02,435.72 181.39,436.70 181.76,441.05 182.14,444.67 182.51,442.85 182.88,443.58 183.26,437.76 183.63,437.68 184.00,433.82 184.37,433.35 184.75,431.78 185.12,434.52 185.49,432.47 185.86,432.79 186.24,430.98 186.61,430.17 186.98,429.57 187.36,430.32 187.73,431.87 188.10,432.47 188.47,433.19 188.85,433.50 189.22,436.19 189.59,438.63 189.97,436.68 190.34,437.49 190.71,435.08 191.08,433.15 191.46,431.62 191.83,431.18 192.20,430.14 192.57,428.90 192.95,431.30 193.32,424.63 193.69,422.97 194.07,432.02 194.44,429.75 194.81,432.29 195.18,441.25 195.56,439.18 195.93,438.35 196.30,438.55 196.67,434.73 197.05,435.73 197.42,430.12 197.79,428.30 198.17,427.80 198.54,432.19 198.91,430.83 199.28,423.24 199.66,427.39 200.03,422.60 200.40,430.82 200.78,431.40 201.15,440.06 201.52,441.45 201.89,446.98 202.27,453.31 202.64,459.62 203.01,463.38 203.38,467.91 203.76,482.59 204.13,482.82 204.50,487.93 204.88,485.74 205.25,480.03 205.62,476.90 205.99,477.93 206.37,465.33 206.74,464.61 207.11,455.17 207.49,458.90 207.86,452.16 208.23,454.13 208.60,460.73 208.98,466.07 209.35,466.26 209.72,468.80 210.09,472.32 210.47,470.53 210.84,467.54 211.21,468.90 211.59,464.17 211.96,462.37 212.33,459.59 212.70,461.94 213.08,462.16 213.45,467.36 213.82,469.20 214.20,472.03 214.57,467.02 214.94,464.81 215.31,457.40 215.69,452.93 216.06,448.30 216.43,443.49 216.80,442.93 217.18,446.87 217.55,453.24 217.92,459.13 218.30,464.25 218.67,459.62 219.04,453.44 219.41,452.75 219.79,443.51 220.16,436.50 220.53,442.07 220.91,447.19 221.28,444.06 221.65,442.54 222.02,441.15 222.40,440.54 222.77,437.40 223.14,436.83 223.51,433.80 223.89,446.30 224.26,447.43 224.63,446.82 225.01,456.65 225.38,457.16 225.75,463.66 226.12,458.79 226.50,468.05 226.87,464.92 227.24,460.21 227.62,469.84 227.99,466.24 228.36,462.47 228.73,462.76 229.11,456.48 229.48,462.25 229.85,458.51 230.22,456.09 230.60,458.89 230.97,452.39 231.34,448.10 231.72,446.76 232.09,450.64 232.46,454.88 232.83,451.34 233.21,451.51 233.58,459.56 233.95,460.04 234.33,462.42 234.70,471.47 235.07,464.08 235.44,471.04 235.82,467.37 236.19,472.26 236.56,469.40 236.93,465.70 237.31,453.20 237.68,452.52 238.05,447.36 238.43,441.97 238.80,447.62 239.17,448.11 239.54,450.05 239.92,453.67 240.29,453.90 240.66,460.27 241.03,464.92 241.41,464.04 241.78,470.56 242.15,473.60 242.53,480.68 242.90,469.44 243.27,464.40 243.64,458.65 244.02,459.94 244.39,452.21 244.76,452.71 245.14,451.27 245.51,445.62 245.88,442.44 246.25,452.03 246.63,451.26 247.00,455.34 247.37,460.52 247.74,457.40 248.12,461.90 248.49,474.69 248.86,470.28 249.24,469.40 249.61,472.39 249.98,473.29 250.35,474.17 250.73,476.34 251.10,477.67 251.47,478.99 251.85,480.86 252.22,479.85 252.59,481.04 252.96,486.35 253.34,484.82 253.71,488.39 254.08,484.27 254.45,478.16 254.83,482.23 255.20,478.57 255.57,479.72 255.95,479.72 256.32,483.80 256.69,476.87 257.06,476.34 257.44,472.47 257.81,469.21 258.18,462.09 258.56,460.59 258.93,458.02 259.30,454.65 259.67,450.12 260.05,448.48 260.42,445.05 260.79,446.53 261.16,449.12 261.54,451.49 261.91,454.46 262.28,458.32 262.66,461.74 263.03,462.41 263.40,464.81 263.77,467.78 264.15,472.92 264.52,474.59 264.89,471.96 265.27,468.76 265.64,465.86 266.01,462.19 266.38,457.77 266.76,454.93 267.13,452.76 267.50,449.94 267.87,451.10 268.25,454.62 268.62,460.26 268.99,461.99 269.37,465.87 269.74,468.89 270.11,469.92 270.48,462.74 270.86,462.44 271.23,458.79 271.60,459.91 271.98,451.30 272.35,450.62 272.72,450.07 273.09,444.81 273.47,443.39 273.84,444.50 274.21,438.91 274.58,445.14 274.96,445.31 275.33,454.42 275.70,452.13 276.08,457.12 276.45,463.13 276.82,460.22 277.19,463.01 277.57,466.89 277.94,467.14 278.31,468.71 278.68,465.93 279.06,463.86 279.43,458.05 279.80,453.36 280.18,450.81 280.55,447.66 280.92,441.18 281.29,449.07 281.67,453.37 282.04,453.80 282.41,454.71 282.79,459.01 283.16,462.06 283.53,464.68 283.90,471.51 284.28,466.89 284.65,472.84 285.02,476.74 285.39,473.33 285.77,469.35 286.14,463.45 286.51,461.65 286.89,462.30 287.26,461.31 287.63,452.35 288.00,454.18 288.38,455.54 288.75,455.90 289.12,456.49 289.50,458.25 289.87,461.78 290.24,454.10 290.61,451.10 290.99,439.39 291.36,431.99 291.73,431.91 292.10,433.46 292.48,442.69 292.85,447.57 293.22,447.21 293.60,451.26 293.97,454.17 294.34,458.29 294.71,462.96 295.09,467.45 295.46,469.03 295.83,471.71 296.21,475.73 296.58,482.09 296.95,475.99 297.32,477.88 297.70,470.53 298.07,472.36 298.44,462.30 298.81,460.92 299.19,461.77 299.56,459.24 299.93,460.24 300.31,469.69 300.68,467.38 301.05,471.57 301.42,472.35 301.80,482.10 302.17,481.97 302.54,481.46 302.92,476.63 303.29,482.80 303.66,481.28 304.03,484.67 304.41,486.72 304.78,481.95 305.15,485.55 305.52,485.26 305.90,479.75 306.27,474.93 306.64,470.37 307.02,468.22 307.39,463.59 307.76,467.08 308.13,461.95 308.51,454.85 308.88,456.48 309.25,455.50 309.63,451.88 310.00,467.34 310.37,470.02 310.74,465.16 311.12,470.44 311.49,472.50 311.86,468.14 312.23,465.23 312.61,464.44 312.98,462.60 313.35,460.12 313.73,461.27 314.10,458.60 314.47,459.29 314.84,464.53 315.22,462.37 315.59,473.08 315.96,466.65 316.34,473.08 316.71,473.16 317.08,471.73 317.45,469.85 317.83,471.04 318.20,463.80 318.57,465.52 318.94,464.74 319.32,462.67 319.69,464.46 320.06,471.06 320.44,466.68 320.81,469.02 321.18,471.29 321.55,472.43 321.93,473.92 322.30,470.24 322.67,469.26 323.04,465.63 323.42,463.81 323.79,463.96 324.16,455.65 324.54,463.85 324.91,461.26 325.28,468.29 325.65,468.98 326.03,464.30 326.40,455.99 326.77,463.06 327.15,452.79 327.52,449.33 327.89,451.16 328.26,445.99 328.64,449.35 329.01,447.20 329.38,443.50 329.75,440.46 330.13,439.68 330.50,431.80 330.87,433.79 331.25,434.48 331.62,438.61 331.99,446.11 332.36,446.91 332.74,459.38 333.11,465.47 333.48,461.41 333.86,462.36 334.23,462.88 334.60,456.08 334.97,449.31 335.35,446.27 335.72,449.85 336.09,454.52 336.46,447.64 336.84,451.58 337.21,451.00 337.58,453.93 337.96,458.89 338.33,461.63 338.70,464.01 339.07,475.58 339.45,473.28 339.82,474.49 340.19,474.74 340.57,467.85 340.94,463.30 341.31,462.95 341.68,454.37 342.06,456.27 342.43,454.34 342.80,450.28 343.17,444.57 343.55,441.44 343.92,434.16 344.29,441.27 344.67,446.01 345.04,450.83 345.41,452.39 345.78,453.86 346.16,456.29 346.53,461.65 346.90,461.74 347.28,463.13 347.65,458.39 348.02,455.37 348.39,455.10 348.77,452.97 349.14,456.67 349.51,454.59 349.88,462.34 350.26,466.02 350.63,463.76 351.00,457.09 351.38,452.01 351.75,447.62 352.12,440.22 352.49,446.99 352.87,450.07 353.24,452.37 353.61,458.37 353.99,459.86 354.36,461.58 354.73,464.65 355.10,467.80 355.48,469.25 355.85,468.99 356.22,472.58 356.59,474.15 356.97,474.39 357.34,470.11 357.71,465.13 358.09,460.79 358.46,459.00 358.83,454.50 359.20,451.90 359.58,448.63 359.95,446.23 360.32,448.09 360.69,448.72 361.07,450.32 361.44,454.60 361.81,455.31 362.19,455.91 362.56,458.36 362.93,462.56 363.30,465.75 363.68,469.15 364.05,475.37 364.42,475.96 364.80,471.13 365.17,475.43 365.54,468.31 365.91,463.58 366.29,460.95 366.66,448.68 367.03,447.80 367.40,444.55 367.78,444.90 368.15,433.84 368.52,432.11 368.90,439.60 369.27,440.18 369.64,441.14 370.01,451.56 370.39,446.50 370.76,455.13 371.13,450.87 371.51,449.47 371.88,443.96 372.25,438.96 372.62,438.77 373.00,431.06 373.37,436.72 373.74,438.66 374.11,446.99 374.49,447.43 374.86,452.12 375.23,459.85 375.61,467.45 375.98,462.75 376.35,472.21 376.72,468.37 377.10,457.58 377.47,454.37 377.84,454.05 378.22,445.48 378.59,442.37 378.96,447.33 379.33,450.06 379.71,455.52 380.08,459.58 380.45,466.43 380.82,471.82 381.20,480.01 381.57,479.75 381.94,471.09 382.32,468.02 382.69,460.59 383.06,456.95 383.43,460.84 383.81,463.17 384.18,464.78 384.55,466.67 384.93,471.07 385.30,470.89 385.67,466.47 386.04,462.25 386.42,459.81 386.79,453.62 387.16,451.95 387.53,451.43 387.91,455.99 388.28,459.32 388.65,464.36 389.03,465.87 389.40,461.85 389.77,462.69 390.14,458.74 390.52,457.70 390.89,452.83 391.26,445.15 391.64,442.95 392.01,434.30 392.38,434.25 392.75,443.98 393.13,448.57 393.50,449.92 393.87,451.97 394.24,455.87 394.62,456.24 394.99,450.37 395.36,453.15 395.74,459.04 396.11,459.49 396.48,456.69 396.85,458.92 397.23,463.04 397.60,467.31 397.97,471.05 398.35,474.12 398.72,479.95 399.09,477.77 399.46,474.79 399.84,473.58 400.21,469.36 400.58,465.27 400.95,466.69 401.33,466.47 401.70,470.79" fill="none" stroke="#525252" stroke-width="1.4" stroke-linejoin="round"/>
<line x1="29.3" y1="414.9" x2="29.3" y2="498.2" stroke="#222" stroke-width="1.4"/>
<line x1="28.6" y1="497.5" x2="401.7" y2="497.5" stroke="#222" stroke-width="1.4"/>
<text x="24.9" y="425.5" font-size="8.3" text-anchor="end" fill="#000">1.0</text>
<text x="24.9" y="460.0" font-size="8.3" text-anchor="end" fill="#000">0.5</text>
<text x="24.9" y="494.5" font-size="8.3" text-anchor="end" fill="#000">0.0</text>
<text x="9.0" y="456.2" font-size="8.5" text-anchor="middle" transform="rotate(-90 9.0 456.2)" fill="#000">Probability</text>
<line x1="113.3" y1="414.9" x2="113.3" y2="497.5" stroke="#000" stroke-width="1.1" stroke-dasharray="3.5,1.5"/>
<line x1="125.7" y1="414.9" x2="125.7" y2="497.5" stroke="#000" stroke-width="1.1" stroke-dasharray="3.5,1.5"/>
<text x="29.3" y="508.5" font-size="8.3" text-anchor="middle" fill="#000">...5,453</text>
<text x="103.77999999999999" y="508.5" font-size="8.3" text-anchor="middle" fill="#000">...5,653</text>
<text x="178.26" y="508.5" font-size="8.3" text-anchor="middle" fill="#000">...5,853</text>
<text x="252.73999999999998" y="508.5" font-size="8.3" text-anchor="middle" fill="#000">...6,053</text>
<text x="327.21999999999997" y="508.5" font-size="8.3" text-anchor="middle" fill="#000">...6,253</text>
<text x="401.7" y="508.5" font-size="8.3" text-anchor="middle" fill="#000">...6,453</text>
<text x="215.5" y="518.8" font-size="8.5" text-anchor="middle" fill="#000">ZmB73 AGPv3 Genomic Coordinates</text>
<text x="430.9" y="12.8" font-size="18" text-anchor="start" font-weight="bold" fill="#000">B</text>
<text x="572.4" y="7.7" font-size="9.55" text-anchor="middle" font-weight="bold" fill="#000">Performance comparison for KN1 models</text>
<text x="572.4" y="17.9" font-size="9.55" text-anchor="middle" font-weight="bold" fill="#000">tested unbalanced</text>
<line x1="460.7" y1="20.4" x2="460.7" y2="237.9" stroke="#222" stroke-width="1.4"/>
<text x="455.6" y="240.6" font-size="8.3" text-anchor="end" fill="#000">0.0</text>
<text x="455.6" y="195.0" font-size="8.3" text-anchor="end" fill="#000">0.2</text>
<text x="455.6" y="149.39999999999998" font-size="8.3" text-anchor="end" fill="#000">0.4</text>
<text x="455.6" y="103.80000000000001" font-size="8.3" text-anchor="end" fill="#000">0.6</text>
<text x="455.6" y="58.19999999999999" font-size="8.3" text-anchor="end" fill="#000">0.8</text>
<text x="440.1" y="129.4" font-size="9.6" text-anchor="middle" transform="rotate(-90 440.1 129.4)" fill="#000">auPRC</text>
<text x="502.0" y="248.8" font-size="8.3" text-anchor="middle" fill="#000">5</text>
<text x="533.18" y="248.8" font-size="8.3" text-anchor="middle" fill="#000">6</text>
<text x="564.36" y="248.8" font-size="8.3" text-anchor="middle" fill="#000">7</text>
<text x="595.54" y="248.8" font-size="8.3" text-anchor="middle" fill="#000">8</text>
<text x="626.72" y="248.8" font-size="8.3" text-anchor="middle" fill="#000">9</text>
<text x="657.9" y="248.8" font-size="8.3" text-anchor="middle" fill="#000">10</text>
<text x="572.4" y="260.0" font-size="9.3" text-anchor="middle" fill="#000">k-size</text>
<line x1="470.8" y1="176.0" x2="672.8" y2="176.0" stroke="#ff1a1a" stroke-width="1.35" stroke-dasharray="4.2,1.4"/>
<circle cx="502.0" cy="52.7" r="3.0" fill="#1f77b4"/>
<circle cx="533.2" cy="40.3" r="3.0" fill="#1f77b4"/>
<circle cx="564.4" cy="37.2" r="3.0" fill="#1f77b4"/>
<circle cx="595.5" cy="37.5" r="3.0" fill="#1f77b4"/>
<circle cx="626.7" cy="40.2" r="3.0" fill="#1f77b4"/>
<circle cx="657.9" cy="44.5" r="3.0" fill="#1f77b4"/>
<circle cx="502.0" cy="61.1" r="3.0" fill="#ff7f0e"/>
<circle cx="533.2" cy="46.2" r="3.0" fill="#ff7f0e"/>
<circle cx="564.4" cy="37.2" r="3.0" fill="#ff7f0e"/>
<circle cx="595.5" cy="33.9" r="3.0" fill="#ff7f0e"/>
<circle cx="626.7" cy="34.1" r="3.0" fill="#ff7f0e"/>
<circle cx="657.9" cy="34.9" r="3.0" fill="#ff7f0e"/>
<circle cx="502.0" cy="70.3" r="3.0" fill="#2ca02c"/>
<circle cx="533.2" cy="65.7" r="3.0" fill="#2ca02c"/>
<circle cx="564.4" cy="85.6" r="3.0" fill="#2ca02c"/>
<circle cx="595.5" cy="101.3" r="3.0" fill="#2ca02c"/>
<circle cx="626.7" cy="130.3" r="3.0" fill="#2ca02c"/>
<circle cx="657.9" cy="177.0" r="3.0" fill="#2ca02c"/>
<circle cx="475" cy="195.6" r="3.0" fill="#1f77b4"/>
<text x="488.5" y="198.2" font-size="7.4" text-anchor="start" fill="#000">bag-of-k-mers - full</text>
<circle cx="475" cy="206.1" r="3.0" fill="#ff7f0e"/>
<text x="488.5" y="208.7" font-size="7.4" text-anchor="start" fill="#000">bag-of-k-mers - filtered</text>
<circle cx="475" cy="216.6" r="3.0" fill="#2ca02c"/>
<text x="488.5" y="219.2" font-size="7.4" text-anchor="start" fill="#000">vector-k-mers</text>
<line x1="467" y1="226.9" x2="482.8" y2="226.9" stroke="#ff1a1a" stroke-width="1.35" stroke-dasharray="4.2,1.4"/>
<text x="488.5" y="229.0" font-size="7.4" text-anchor="start" fill="#000">PWM collection</text>
<text x="430.9" y="272.9" font-size="18" text-anchor="start" font-weight="bold" fill="#000">C</text>
<text x="572.0" y="277.8" font-size="9.55" text-anchor="middle" font-weight="bold" fill="#000">PR Curve - Filtered "bag-of-k-mers" model</text>
<text x="455.6" y="498.5" font-size="8.3" text-anchor="end" fill="#000">0.0</text>
<text x="463.0" y="509.3" font-size="8.3" text-anchor="middle" fill="#000">0.0</text>
<text x="455.6" y="456.6" font-size="8.3" text-anchor="end" fill="#000">0.2</text>
<text x="506.26" y="509.3" font-size="8.3" text-anchor="middle" fill="#000">0.2</text>
<text x="455.6" y="414.7" font-size="8.3" text-anchor="end" fill="#000">0.4</text>
<text x="549.52" y="509.3" font-size="8.3" text-anchor="middle" fill="#000">0.4</text>
<text x="455.6" y="372.8" font-size="8.3" text-anchor="end" fill="#000">0.6</text>
<text x="592.78" y="509.3" font-size="8.3" text-anchor="middle" fill="#000">0.6</text>
<text x="455.6" y="330.9" font-size="8.3" text-anchor="end" fill="#000">0.8</text>
<text x="636.04" y="509.3" font-size="8.3" text-anchor="middle" fill="#000">0.8</text>
<text x="455.6" y="289.0" font-size="8.3" text-anchor="end" fill="#000">1.0</text>
<text x="679.3" y="509.3" font-size="8.3" text-anchor="middle" fill="#000">1.0</text>
<text x="440.6" y="388.8" font-size="8.4" text-anchor="middle" transform="rotate(-90 440.6 388.8)" fill="#000">Precision</text>
<text x="572.3" y="519.0" font-size="8.4" text-anchor="middle" fill="#000">Recall</text>
<polyline points="463.50,495.00 463.52,495.00 463.52,493.74 463.54,493.74 463.54,493.58 463.56,493.58 463.56,491.31 463.57,491.31 463.57,491.56 463.59,491.56 463.59,489.58 463.61,489.58 463.61,489.54 463.63,489.54 463.63,487.54 463.64,487.54 463.64,487.31 463.66,487.31 463.66,486.01 463.68,486.01 463.68,486.19 463.69,486.19 463.69,484.95 463.70,484.95 463.70,484.74 463.72,484.74 463.72,484.31 463.73,484.31 463.73,484.27 463.73,484.27 463.73,483.63 463.75,483.63 463.75,482.50 463.76,482.50 463.76,482.94 463.78,482.94 463.78,481.57 463.80,481.57 463.80,479.91 463.81,479.91 463.81,480.60 463.82,480.60 463.82,478.39 463.83,478.39 463.83,478.19 463.85,478.19 463.85,478.22 463.87,478.22 463.87,477.04 463.88,477.04 463.88,476.20 463.90,476.20 463.90,474.97 463.91,474.97 463.91,473.89 463.92,473.89 463.92,473.64 463.94,473.64 463.94,473.28 463.95,473.28 463.95,472.06 463.97,472.06 463.97,470.79 463.98,470.79 463.98,470.60 464.00,470.60 464.00,471.48 464.12,471.48 464.12,470.12 464.27,470.12 464.27,470.25 464.42,470.25 464.42,468.42 464.56,468.42 464.56,467.75 464.71,467.75 464.71,466.92 464.95,466.92 464.95,467.38 465.07,467.38 465.07,465.31 465.29,465.31 465.29,464.89 465.48,464.89 465.48,464.57 465.62,464.57 465.62,462.80 465.78,462.80 465.78,462.65 465.94,462.65 465.94,461.83 466.19,461.83 466.19,461.64 466.43,461.64 466.43,461.64 466.86,461.64 466.86,460.07 467.30,460.07 467.30,460.04 467.56,460.04 467.56,458.92 467.78,458.92 467.78,458.89 468.26,458.89 468.26,458.20 468.81,458.20 468.81,457.40 469.20,457.40 469.20,456.64 469.57,456.64 469.57,457.06 470.50,457.06 470.50,456.39 471.53,456.39 471.53,457.96 472.41,457.96 472.41,457.62 473.15,457.62 473.15,457.70 474.24,457.70 474.24,456.91 474.98,456.91 474.98,458.51 475.73,458.51 475.73,458.76 476.26,458.76 476.26,458.60 477.00,458.60 477.00,459.80 477.48,459.80 477.48,458.35 478.00,458.35 478.00,457.54 478.49,457.54 478.49,456.41 479.00,456.41 479.00,455.50" fill="none" stroke="#66c2a5" stroke-width="1.1" stroke-linejoin="round"/>
<polyline points="479.00,455.41 479.46,455.26 479.90,454.76 480.34,453.93 480.76,453.40 481.19,452.61 481.64,451.96 482.11,451.44 482.61,450.91 483.13,450.91 483.69,450.23 484.26,449.87 484.86,449.29 485.47,448.83 486.09,448.47 486.72,448.24 487.36,448.30 488.00,447.86 488.65,447.44 489.29,447.21 489.94,446.63 490.58,447.00 491.22,446.10 491.87,446.12 492.50,446.33 493.13,444.85 493.76,444.80 494.38,444.63 494.99,444.49 495.60,443.68 496.21,443.68 496.81,443.37 497.41,443.05 498.02,442.04 498.62,442.44 499.23,442.31 499.84,441.67 500.46,441.04 501.09,440.74 501.72,439.91 502.36,440.40 503.01,440.37 503.66,439.90 504.32,438.73 504.98,439.12 505.64,438.95 506.31,438.62 506.98,438.77 507.65,437.87 508.33,437.94 509.02,438.09 509.71,438.06 510.41,437.73 511.11,437.89 511.82,437.72 512.52,437.33 513.23,437.99 513.92,437.65 514.60,437.58 515.26,438.34 515.90,438.98 516.53,439.09 517.15,439.43 517.77,439.57 518.40,439.23 519.04,440.33 519.68,440.48 520.33,440.05 521.00,440.80 521.67,440.95 522.34,441.65 523.03,441.58 523.72,441.79 524.40,441.94 525.09,441.70 525.79,441.68 526.48,442.33 527.17,442.38 527.87,442.58 528.56,442.67 529.26,442.72 529.95,443.11 530.65,443.14 531.34,443.06 532.04,442.87 532.73,442.83 533.43,443.24 534.12,443.69 534.82,444.09 535.51,443.89 536.20,444.29 536.90,444.55 537.59,445.00 538.28,444.62 538.97,445.06 539.66,444.90 540.35,444.69 541.04,444.58 541.73,445.38 542.42,445.70 543.10,446.27 543.78,445.66 544.47,446.13 545.15,446.17 545.83,445.79 546.51,446.67 547.19,446.68 547.87,446.64 548.55,447.57 549.23,447.19 549.91,447.66 550.59,447.67 551.27,447.76 551.94,448.10 552.62,448.53 553.30,448.36 553.98,448.32 554.66,449.38 555.34,449.23 556.01,449.08 556.69,449.49 557.38,449.31 558.06,449.87 558.74,450.29 559.42,449.78 560.10,450.66 560.79,450.82 561.47,450.72 562.16,450.99 562.85,451.04 563.54,451.16 564.23,450.96 564.92,451.99 565.61,451.54 566.31,451.87 567.00,451.91 567.70,452.20 568.39,452.33 569.09,452.04 569.79,452.49 570.49,452.42 571.20,452.35 571.90,452.98 572.60,453.03 573.30,452.58 574.01,452.80 574.71,452.69 575.41,452.72 576.12,452.82 576.82,453.27 577.52,452.84 578.23,452.89 578.93,453.39 579.63,453.20 580.34,453.76 581.04,453.28 581.74,453.47 582.45,453.48 583.15,453.18 583.85,453.93 584.55,454.11 585.25,454.27 585.95,454.07 586.65,454.38 587.35,454.27 588.05,454.38 588.75,454.30 589.45,454.56 590.15,454.46 590.85,454.94 591.55,454.72 592.25,454.72 592.95,455.06 593.65,455.17 594.35,454.87 595.05,455.13 595.75,455.35 596.44,455.70 597.14,455.85 597.84,456.02 598.54,455.87 599.23,455.85 599.93,455.81 600.63,456.32 601.32,456.31 602.02,456.64 602.72,456.91 603.41,457.28 604.11,456.70 604.80,457.19 605.49,456.77 606.19,457.58 606.88,457.15 607.57,457.56 608.26,457.47 608.96,458.27 609.65,458.17 610.34,458.40 611.03,458.29 611.72,458.57 612.41,458.35 613.10,458.65 613.79,459.26 614.48,458.61 615.17,459.24 615.86,459.68 616.55,459.79 617.24,459.84 617.93,459.83 618.62,460.31 619.31,460.05 620.01,460.26 620.70,460.00 621.39,460.64 622.08,460.63 622.77,460.86 623.46,460.43 624.16,460.84 624.85,461.24 625.54,461.12 626.24,461.71 626.93,462.20 627.62,461.80 628.32,462.05 629.01,461.96 629.71,462.07 630.41,461.94 631.10,462.55 631.80,462.20 632.50,462.51 633.20,462.60 633.89,462.55 634.59,462.78 635.29,463.03 635.99,463.43 636.69,463.26 637.39,463.69 638.09,463.55 638.79,463.60 639.49,463.78 640.19,463.69 640.89,464.08 641.59,463.99 642.29,464.08 642.99,464.59 643.68,464.04 644.38,464.11 645.08,464.43 645.78,464.62 646.48,464.57 647.18,464.97 647.88,464.94 648.58,465.05 649.28,464.75 649.97,465.60 650.67,465.32 651.37,465.20 652.07,465.87 652.76,465.65 653.46,465.59 654.16,465.61 654.86,466.00 655.55,465.95 656.25,465.98 656.95,466.31 657.65,466.38 658.34,466.42 659.04,466.89 659.74,467.15 660.44,467.25 661.13,466.92 661.83,467.02 662.52,466.89 663.22,467.34 663.91,467.32 664.60,467.75 665.29,467.79 665.97,468.20 666.65,468.22 667.33,468.53 668.00,468.79 668.67,468.27 669.33,468.87 669.98,469.47 670.63,469.69 671.25,470.08 671.86,470.24 672.46,470.92 673.05,471.02 673.63,471.47 674.20,471.80 674.76,472.56 675.31,473.04 675.85,473.27 676.40,473.82 676.94,473.67 677.50,474.86 678.05,474.56 678.63,475.32 679.20,475.28" fill="none" stroke="#66c2a5" stroke-width="1.25" stroke-dasharray="3.5,2.2" stroke-linejoin="round"/>
<polyline points="463.70,286.14 463.70,288.52 463.70,289.11 463.70,292.41 463.70,293.63 463.70,295.24 463.70,297.15 463.70,298.95 463.70,301.21 463.70,303.54 463.70,305.35 463.70,307.29 463.70,308.27 463.70,310.23 463.70,313.39 463.70,315.07 463.70,317.46 463.70,318.99 463.70,320.01 463.70,322.84 463.70,324.49 463.70,326.24 463.70,327.73 463.70,329.98 463.70,331.83 463.70,334.16 463.70,335.76 463.70,338.26 463.70,339.22 463.70,341.63 463.70,343.56 463.70,344.92 463.70,346.71 463.70,349.50 463.70,351.21 463.70,352.85 463.70,354.99 463.70,356.47 463.70,358.75 463.70,360.32 463.70,362.55 463.70,364.78 463.70,366.17 463.70,368.55 463.70,369.71 463.70,371.92 463.70,373.40 463.70,375.82 463.70,377.80 463.70,379.61 463.70,381.49 463.70,384.04 463.70,385.99 463.70,386.85 463.70,389.71 463.70,390.47 463.70,392.77 463.70,394.91 463.70,396.94 463.70,398.39 463.70,400.43 463.70,402.66 463.70,404.26 463.70,406.20 463.70,408.63 463.70,410.65 463.70,412.16 463.70,414.11 463.70,416.00 463.70,417.74 463.70,419.63 463.70,421.33 463.70,423.92 463.70,425.54 463.70,427.43 463.70,429.48 463.70,431.52 463.70,433.79 463.70,435.02 463.70,436.88 463.70,439.04 463.70,440.53 463.70,443.29 463.70,445.06 463.70,446.88 463.70,448.47 463.70,450.72 463.70,452.76 463.70,454.45 463.70,456.05 463.70,457.40 463.70,460.36 463.70,461.76 463.70,463.47 463.70,466.08 463.70,467.77 463.70,468.98 463.70,471.42 463.70,473.26 463.70,475.68 463.70,476.44 463.70,478.95 463.72,478.93 463.76,477.64 463.80,474.73 463.84,472.07 463.87,470.78 463.91,469.53 463.95,467.84 463.99,466.30 464.03,463.85 464.06,461.46 464.10,460.22 464.14,457.95 464.18,455.96 464.22,454.14 464.26,452.73 464.29,449.95 464.33,447.99 464.37,446.46 464.41,444.55 464.45,442.34 464.48,440.40 464.53,438.99 464.58,437.46 464.62,435.30 464.67,433.38 464.72,431.69 464.77,428.49 464.82,426.77 464.86,425.18 464.91,423.07 464.96,421.24 465.01,419.75 465.05,417.30 465.10,415.73 465.15,413.18 465.20,411.69 465.25,410.71 465.29,408.04 465.34,406.48 465.39,404.72 465.44,402.33 465.48,400.85 465.66,398.80 465.90,397.09 466.14,394.66 466.37,392.44 466.61,390.71 466.85,389.00 467.08,387.54 467.32,385.35 467.56,383.38 467.80,381.57 468.05,380.18 468.38,377.63 468.72,376.58 469.05,373.60 469.39,371.98 469.73,370.67 470.06,368.66 470.40,366.22 471.84,365.96 472.66,366.95 472.91,369.47 473.16,371.24 473.41,372.64 473.66,374.98 473.91,376.57 474.16,378.58 474.41,380.53 474.66,382.18 474.91,384.47 475.20,386.37 475.51,388.24 475.83,390.40 476.14,391.74 476.46,393.14 477.97,393.07 479.47,393.96 480.89,395.18 482.30,396.69 483.72,398.07 485.35,398.68 487.03,399.59 488.21,400.63 489.07,403.15 489.92,404.34 490.78,405.72 491.63,407.42 492.49,409.41 493.34,411.91 494.12,413.34 494.88,414.11 495.64,416.49 496.40,418.40 497.16,420.30 497.92,421.94 499.02,423.10 500.17,425.05 501.33,426.19 502.48,427.04 503.90,428.52 505.80,428.28 507.69,428.69 509.59,428.48 511.50,427.56 513.41,428.03 515.32,427.97 517.23,427.34 519.09,427.32 520.80,428.96 522.51,429.91 524.22,430.47 525.93,430.48 527.64,432.41 529.31,433.10 530.98,433.93 532.64,435.10 534.30,435.73 535.96,437.35 537.62,438.08 539.28,438.80 540.94,440.08 542.71,440.64 544.56,440.52 546.41,441.54 548.26,441.88 550.12,441.84 551.97,442.75 553.82,443.65 555.68,443.70 557.53,444.98 559.38,445.57 561.24,445.22 563.12,445.93 564.99,446.87 566.87,446.30 568.75,446.43 570.63,446.99 572.50,446.97 574.38,447.34 576.26,448.33 578.13,448.46 580.01,449.10 581.88,449.57 583.76,449.45 585.63,450.05 587.51,450.39 589.38,450.61 591.28,450.78 593.18,451.40 595.09,451.38 596.99,451.74 598.89,452.17 600.80,452.34 602.70,451.65 604.61,451.92 606.51,452.32 608.42,452.64 610.32,453.13 612.23,452.53 614.13,452.93 616.03,453.41 617.93,454.01 619.83,454.28 621.73,453.53 623.63,454.06 625.53,454.03 627.44,454.90 629.34,454.95 631.20,454.99 633.02,455.49 634.83,456.45 636.65,457.32 638.46,457.22 640.28,458.00 642.10,458.76 643.98,459.08 645.86,459.56 647.74,459.38 649.61,459.90 651.49,459.65 653.37,460.86 655.25,461.62 657.13,460.73 658.91,461.97 660.68,463.32 662.45,463.63 664.21,463.66 665.98,465.62 667.75,465.31 669.41,467.33 670.81,467.85 672.20,469.10 673.60,470.70 675.00,471.98 676.40,473.53 677.80,474.80 679.20,475.84" fill="none" stroke="#fc8d62" stroke-width="1.4" stroke-dasharray="3.5,2.2" stroke-linejoin="round"/>
<polyline points="463.50,300.00 463.50,300.00 463.50,300.56 463.51,300.56 463.51,301.10 463.51,301.10 463.51,303.57 463.52,303.57 463.52,303.97 463.52,303.97 463.52,304.58 463.52,304.58 463.52,304.42 463.53,304.42 463.53,307.04 463.53,307.04 463.53,307.78 463.53,307.78 463.53,307.34 463.54,307.34 463.54,308.49 463.54,308.49 463.54,309.63 463.54,309.63 463.54,310.64 463.55,310.64 463.55,311.35 463.55,311.35 463.55,312.52 463.56,312.52 463.56,313.19 463.56,313.19 463.56,314.01 463.56,314.01 463.56,315.65 463.56,315.65 463.56,313.67 463.57,313.67 463.57,316.13 463.57,316.13 463.57,317.29 463.58,317.29 463.58,318.37 463.58,318.37 463.58,318.65 463.58,318.65 463.58,318.99 463.59,318.99 463.59,321.36 463.59,321.36 463.59,323.22 463.59,323.22 463.59,321.82 463.60,321.82 463.60,324.03 463.60,324.03 463.60,323.75 463.60,323.75 463.60,324.44 463.61,324.44 463.61,324.79 463.61,324.79 463.61,326.21 463.61,326.21 463.61,328.37 463.62,328.37 463.62,328.60 463.62,328.60 463.62,329.99 463.62,329.99 463.62,330.43 463.63,330.43 463.63,330.54 463.63,330.54 463.63,331.82 463.63,331.82 463.63,331.82 463.63,331.82 463.63,332.64 463.64,332.64 463.64,332.90 463.64,332.90 463.64,333.86 463.65,333.86 463.65,334.47 463.65,334.47 463.65,336.44 463.65,336.44 463.65,335.79 463.66,335.79 463.66,338.04 463.66,338.04 463.66,338.50 463.66,338.50 463.66,340.02 463.67,340.02 463.67,340.40 463.67,340.40 463.67,341.99 463.67,341.99 463.67,341.85 463.67,341.85 463.67,341.03 463.68,341.03 463.68,342.33 463.68,342.33 463.68,342.70 463.68,342.70 463.68,344.03 463.69,344.03 463.69,346.21 463.69,346.21 463.69,346.71 463.70,346.71 463.70,346.67 463.70,346.67 463.70,347.34 463.70,347.34 463.70,348.48 463.70,348.48 463.70,348.22 463.71,348.22 463.71,349.48 463.71,349.48 463.71,350.85 463.71,350.85 463.71,352.21 463.72,352.21 463.72,352.89 463.72,352.89 463.72,352.06 463.73,352.06 463.73,354.46 463.73,354.46 463.73,355.17 463.73,355.17 463.73,356.02 463.73,356.02 463.73,357.16 463.74,357.16 463.74,355.70 463.74,355.70 463.74,357.16 463.74,357.16 463.74,358.59 463.75,358.59 463.75,358.37 463.75,358.37 463.75,360.80 463.75,360.80 463.75,360.58 463.75,360.58 463.75,361.49 463.76,361.49 463.76,361.27 463.76,361.27 463.76,363.03 463.76,363.03 463.76,364.03 463.77,364.03 463.77,364.56 463.77,364.56 463.77,365.49 463.78,365.49 463.78,366.24 463.78,366.24 463.78,366.61 463.78,366.61 463.78,367.57 463.78,367.57 463.78,367.99 463.79,367.99 463.79,368.78 463.79,368.78 463.79,370.13 463.79,370.13 463.79,369.66 463.80,369.66 463.80,370.75 463.80,370.75 463.80,372.52 463.80,372.52 463.80,371.70 463.80,371.70 463.80,372.61 463.81,372.61 463.81,373.98 463.81,373.98 463.81,375.07 463.81,375.07 463.81,375.22 463.82,375.22 463.82,376.91 463.82,376.91 463.82,377.32 463.82,377.32 463.82,377.78 463.82,377.78 463.82,378.10 463.83,378.10 463.83,380.33 463.83,380.33 463.83,379.94 463.84,379.94 463.84,379.82 463.84,379.82 463.84,382.60 463.85,382.60 463.85,382.54 463.85,382.54 463.85,383.90 463.85,383.90 463.85,385.59 463.86,385.59 463.86,384.61 463.86,384.61 463.86,385.43 463.86,385.43 463.86,385.70 463.87,385.70 463.87,387.31 463.87,387.31 463.87,388.81 463.87,388.81 463.87,389.43 463.87,389.43 463.87,389.92 463.88,389.92 463.88,389.77 463.88,389.77 463.88,389.77 463.88,389.77 463.88,392.28 463.89,392.28 463.89,392.97 463.89,392.97 463.89,394.50 463.90,394.50 463.90,395.39 463.90,395.39 463.90,395.96 463.90,395.96 463.90,397.20 463.91,397.20 463.91,397.80 463.91,397.80 463.91,398.45 463.91,398.45 463.91,398.44 463.91,398.44 463.91,399.19 463.92,399.19 463.92,400.21 463.92,400.21 463.92,401.25 463.92,401.25 463.92,401.03 463.92,401.03 463.92,402.07 463.93,402.07 463.93,402.46 463.93,402.46 463.93,403.09 463.93,403.09 463.93,404.80 463.94,404.80 463.94,403.97 463.94,403.97 463.94,405.06 463.94,405.06 463.94,405.83 463.95,405.83 463.95,405.73 463.95,405.73 463.95,407.89 463.95,407.89 463.95,409.54 463.96,409.54 463.96,409.94 463.96,409.94 463.96,410.70 463.96,410.70 463.96,412.02 463.97,412.02 463.97,412.96 463.97,412.96 463.97,413.27 463.98,413.27 463.98,414.98 463.98,414.98 463.98,415.00 463.98,415.00 463.98,415.06 463.98,415.06 463.98,415.87 463.99,415.87 463.99,416.15 463.99,416.15 463.99,417.26 463.99,417.26 463.99,418.00 464.00,418.00 464.00,419.75 464.03,419.75 464.03,421.42 464.06,421.42 464.06,420.07 464.12,420.07 464.12,421.98 464.15,421.98 464.15,421.60 464.21,421.60 464.21,423.45 464.25,423.45 464.25,423.71 464.31,423.71 464.31,423.61 464.38,423.61 464.38,426.25 464.45,426.25 464.45,426.34 464.48,426.34 464.48,426.87 464.55,426.87 464.55,427.68 464.59,427.68 464.59,428.51 464.68,428.51 464.68,429.58 464.88,429.58 464.88,430.03 465.05,430.03 465.05,431.01 465.31,431.01 465.31,432.06 465.57,432.06 465.57,433.66 465.72,433.66 465.72,433.29 466.01,433.29 466.01,433.74 466.16,433.74 466.16,435.88 466.36,435.88 466.36,435.83 466.50,435.83 466.50,437.26 466.88,437.26 466.88,435.73 467.05,435.73 467.05,434.92 467.19,434.92 467.19,434.80 467.44,434.80 467.44,435.05 467.83,435.05 467.83,434.00 468.19,434.00 468.19,431.74 468.50,431.74 468.50,430.95 468.60,430.95 468.60,432.60 468.69,432.60 468.69,432.56 468.76,432.56 468.76,434.08 468.82,434.08 468.82,434.52 468.90,434.52 468.90,435.73 468.98,435.73 468.98,435.97 469.04,435.97 469.04,436.21 469.08,436.21 469.08,436.40 469.17,436.40 469.17,437.96 469.22,437.96 469.22,438.97 469.31,438.97 469.31,440.21 469.36,440.21 469.36,442.14 469.43,442.14 469.43,441.99 469.79,441.99 469.79,439.75 469.97,439.75 469.97,440.05 470.15,440.05 470.15,439.08 470.45,439.08 470.45,438.33 470.83,438.33 470.83,437.58 471.06,437.58 471.06,437.35 471.67,437.35 471.67,436.57 472.64,436.57 472.64,437.09 473.76,437.09 473.76,435.40 474.44,435.40 474.44,435.68 474.85,435.68 474.85,436.92 475.18,436.92 475.18,435.25 475.65,435.25 475.65,435.63 476.05,435.63 476.05,434.52 476.80,434.52 476.80,434.25 477.20,434.25 477.20,433.56 477.85,433.56 477.85,433.01 478.75,433.01 478.75,432.40 479.60,432.40 479.60,432.98 480.15,432.98 480.15,432.11 481.18,432.11 481.18,432.84 482.13,432.84 482.13,433.01 483.02,433.01 483.02,433.01 483.48,433.01 483.48,432.84 483.93,432.84 483.93,433.50 484.96,433.50 484.96,433.53 485.60,433.53 485.60,434.59 486.18,434.59 486.18,433.21 486.89,433.21 486.89,434.45 487.69,434.45 487.69,433.93 488.68,433.93 488.68,434.84 489.22,434.84 489.22,436.88 490.19,436.88 490.19,437.20 490.55,437.20 490.55,436.45 491.27,436.45 491.27,436.42 492.04,436.42 492.04,436.02 492.46,436.02 492.46,437.72 492.89,437.72 492.89,439.77 493.52,439.77 493.52,438.96 494.61,438.96 494.61,438.70 495.48,438.70 495.48,439.36 496.63,439.36 496.63,438.21 497.67,438.21 497.67,439.03 498.44,439.03 498.44,439.31 499.47,439.31 499.47,439.25 499.88,439.25 499.88,439.80 500.37,439.80 500.37,439.56 501.43,439.56 501.43,439.81 502.47,439.81 502.47,439.06 503.05,439.06 503.05,440.05 503.84,440.05 503.84,440.73 504.69,440.73 504.69,439.42 505.73,439.42 505.73,439.79 506.58,439.79 506.58,441.38 507.28,441.38 507.28,440.67 507.95,440.67 507.95,441.83 508.69,441.83 508.69,440.76 509.61,440.76 509.61,441.93 510.70,441.93 510.70,441.18 511.46,441.18 511.46,441.29 512.06,441.29 512.06,442.09 512.65,442.09 512.65,440.96 513.65,440.96 513.65,440.65 514.70,440.65 514.70,440.98 515.18,440.98 515.18,441.54 515.64,441.54 515.64,440.35 516.51,440.35 516.51,441.70 517.03,441.70 517.03,441.02 518.09,441.02 518.09,442.07 518.72,442.07 518.72,440.02 519.18,440.02 519.18,441.21 520.20,441.21 520.20,441.18 520.68,441.18 520.68,441.93 521.24,441.93 521.24,442.85 521.71,442.85 521.71,442.83 522.15,442.83 522.15,443.00 522.53,443.00 522.53,443.24 522.93,443.24 522.93,443.65 523.41,443.65 523.41,443.16 523.81,443.16 523.81,444.39 524.59,444.39 524.59,444.75 525.44,444.75 525.44,445.00 526.08,445.00 526.08,445.42 526.67,445.42 526.67,445.55 527.39,445.55 527.39,446.95 528.37,446.95 528.37,446.16 529.34,446.16 529.34,446.51 529.73,446.51 529.73,446.43 530.22,446.43 530.22,446.51 530.75,446.51 530.75,446.64 531.29,446.64 531.29,447.12 532.00,447.12 532.00,448.00" fill="none" stroke="#8da0cb" stroke-width="1.1" stroke-linejoin="round"/>
<polyline points="532.00,447.65 532.49,447.80 532.98,447.88 533.48,448.15 533.97,448.78 534.46,448.12 534.95,448.86 535.44,449.04 535.93,448.74 536.42,448.76 536.92,449.16 537.41,449.45 537.90,449.80 538.39,449.59 538.88,449.87 539.37,449.46 539.86,449.46 540.35,449.36 540.85,449.60 541.34,449.91 541.83,450.15 542.32,449.88 542.81,450.51 543.30,450.39 543.80,450.36 544.29,450.43 544.78,451.23 545.27,450.87 545.76,450.70 546.26,450.79 546.75,451.58 547.24,451.08 547.74,451.62 548.23,451.77 548.72,450.93 549.22,451.94 549.71,451.65 550.20,451.52 550.70,451.75 551.19,452.12 551.69,452.16 552.18,452.26 552.68,452.06 553.17,452.65 553.67,452.80 554.16,452.97 554.66,452.84 555.15,453.15 555.65,453.28 556.14,453.02 556.64,453.15 557.13,453.15 557.63,453.23 558.13,453.39 558.62,452.82 559.12,453.25 559.61,453.54 560.11,452.97 560.61,453.21 561.10,454.05 561.60,453.47 562.09,453.70 562.59,453.99 563.09,453.85 563.58,453.84 564.08,454.00 564.58,454.10 565.07,454.14 565.57,454.41 566.06,454.85 566.56,454.61 567.06,455.01 567.55,454.87 568.05,454.97 568.55,454.99 569.04,454.84 569.54,455.10 570.04,455.15 570.53,454.88 571.03,455.42 571.52,455.46 572.02,455.49 572.52,455.34 573.01,454.90 573.51,456.01 574.00,455.71 574.50,455.27 574.99,456.06 575.49,455.82 575.98,456.25 576.48,456.15 576.97,456.55 577.46,456.43 577.95,456.54 578.44,456.62 578.93,457.01 579.42,456.50 579.91,457.24 580.40,457.24 580.88,457.04 581.37,457.29 581.87,457.28 582.36,457.50 582.86,457.81 583.35,457.48 583.85,457.91 584.35,458.04 584.84,458.03 585.34,458.33 585.84,457.99 586.34,458.25 586.84,458.76 587.33,458.21 587.83,458.23 588.33,458.33 588.83,458.53 589.33,458.29 589.83,458.44 590.33,458.12 590.83,458.35 591.33,458.42 591.83,458.44 592.33,458.67 592.83,459.01 593.33,458.80 593.82,458.62 594.32,459.07 594.82,459.11 595.32,458.77 595.82,459.21 596.32,458.97 596.82,459.13 597.32,459.16 597.82,459.61 598.32,459.26 598.82,459.44 599.32,459.63 599.82,459.90 600.31,460.00 600.81,459.51 601.31,460.12 601.81,459.96 602.31,460.25 602.81,460.28 603.31,459.94 603.81,460.15 604.30,460.13 604.80,460.36 605.30,460.75 605.80,460.42 606.30,460.30 606.79,461.17 607.29,460.35 607.79,460.67 608.29,460.73 608.79,460.48 609.29,461.07 609.78,461.20 610.28,460.98 610.78,461.08 611.28,461.10 611.78,460.76 612.27,461.33 612.77,461.03 613.27,461.17 613.77,461.58 614.27,461.78 614.76,461.40 615.26,461.97 615.76,462.19 616.26,461.86 616.75,461.87 617.25,462.01 617.75,461.93 618.25,461.88 618.75,462.33 619.24,462.42 619.74,462.18 620.24,462.28 620.74,462.29 621.23,462.35 621.73,462.35 622.23,462.29 622.73,462.96 623.22,462.72 623.72,462.90 624.22,463.40 624.72,462.90 625.21,463.24 625.71,462.83 626.21,463.09 626.70,463.49 627.20,463.33 627.70,463.11 628.19,463.16 628.69,463.70 629.19,463.46 629.69,463.93 630.18,463.91 630.68,463.84 631.18,463.97 631.67,464.25 632.17,464.15 632.67,463.98 633.16,464.38 633.66,464.28 634.16,464.39 634.65,464.67 635.15,464.68 635.65,464.93 636.14,464.71 636.64,464.72 637.14,464.83 637.63,465.08 638.13,464.87 638.62,465.06 639.12,465.02 639.62,465.12 640.11,465.35 640.61,466.06 641.11,465.46 641.60,465.70 642.10,465.74 642.59,465.75 643.09,465.89 643.59,466.44 644.08,465.98 644.58,466.52 645.07,466.37 645.57,466.08 646.06,466.22 646.56,466.35 647.05,466.29 647.55,466.92 648.04,466.83 648.54,466.95 649.03,466.65 649.53,467.11 650.02,466.96 650.51,467.77 651.01,467.25 651.50,467.43 652.00,467.56 652.49,467.44 652.98,467.55 653.48,467.65 653.97,468.04 654.46,467.75 654.96,467.99 655.45,468.21 655.94,468.12 656.44,467.99 656.93,468.13 657.42,468.42 657.91,468.38 658.41,468.95 658.90,468.82 659.39,468.92 659.88,468.78 660.37,469.26 660.87,469.15 661.36,469.11 661.85,469.30 662.34,470.14 662.83,469.53 663.32,469.58 663.81,470.19 664.29,470.20 664.78,470.07 665.27,470.60 665.76,470.03 666.24,470.40 666.73,470.25 667.21,471.11 667.70,470.93 668.18,471.68 668.66,471.31 669.14,471.46 669.62,471.23 670.09,471.37 670.57,471.70 671.04,472.22 671.51,471.93 671.98,471.78 672.44,472.77 672.90,472.98 673.36,472.74 673.81,473.29 674.26,473.67 674.71,473.91 675.16,473.47 675.60,474.10 676.05,474.13 676.50,474.78 676.94,474.80 677.39,474.71 677.84,475.25 678.29,475.59 678.75,475.28 679.20,475.55" fill="none" stroke="#8da0cb" stroke-width="1.25" stroke-dasharray="3.5,2.2" stroke-linejoin="round"/>
<polyline points="463.90,290.00 463.90,290.00 463.90,290.49 463.90,290.49 463.90,292.08 463.90,292.08 463.90,291.80 463.90,291.80 463.90,294.00 463.90,294.00 463.90,292.37 463.90,292.37 463.90,295.12 463.90,295.12 463.90,295.81 463.90,295.81 463.90,296.08 463.90,296.08 463.90,297.97 463.90,297.97 463.90,296.55 463.90,296.55 463.90,298.69 463.90,298.69 463.90,300.43 463.90,300.43 463.90,300.67 463.90,300.67 463.90,300.70 463.90,300.70 463.90,302.05 463.90,302.05 463.90,301.82 463.90,301.82 463.90,302.51 463.90,302.51 463.90,303.48 463.90,303.48 463.90,305.58 463.90,305.58 463.90,305.96 463.90,305.96 463.90,308.07 463.90,308.07 463.90,308.23 463.90,308.23 463.90,307.70 463.90,307.70 463.90,310.23 463.90,310.23 463.90,310.29 463.90,310.29 463.90,311.21 463.90,311.21 463.90,311.95 463.90,311.95 463.90,312.22 463.90,312.22 463.90,313.07 463.90,313.07 463.90,313.65 463.90,313.65 463.90,314.78 463.90,314.78 463.90,315.49 463.90,315.49 463.90,315.91 463.90,315.91 463.90,317.76 463.90,317.76 463.90,317.90 463.90,317.90 463.90,318.33 463.90,318.33 463.90,319.40 463.90,319.40 463.90,320.67 463.90,320.67 463.90,321.03 463.90,321.03 463.90,320.29 463.90,320.29 463.90,321.98 463.90,321.98 463.90,322.60 463.90,322.60 463.90,323.58 463.90,323.58 463.90,323.38 463.90,323.38 463.90,324.37 463.90,324.37 463.90,324.26 463.90,324.26 463.90,325.40 463.90,325.40 463.90,326.01 463.90,326.01 463.90,328.10 463.90,328.10 463.90,327.49 463.90,327.49 463.90,327.90 463.90,327.90 463.90,329.38 463.90,329.38 463.90,330.15 463.90,330.15 463.90,330.20 463.90,330.20 463.90,331.24 463.90,331.24 463.90,331.71 463.90,331.71 463.90,333.16 463.90,333.16 463.90,333.69 463.90,333.69 463.90,334.88 463.90,334.88 463.90,335.53 463.90,335.53 463.90,336.45 463.90,336.45 463.90,337.66 463.90,337.66 463.90,337.12 463.90,337.12 463.90,339.31 463.90,339.31 463.90,338.92 463.90,338.92 463.90,341.32 463.90,341.32 463.90,341.33 463.90,341.33 463.90,341.98 463.90,341.98 463.90,342.73 463.90,342.73 463.90,344.20 463.90,344.20 463.90,344.67 463.90,344.67 463.90,345.45 463.90,345.45 463.90,346.83 463.90,346.83 463.90,347.50 463.90,347.50 463.90,349.06 463.90,349.06 463.90,348.84 463.90,348.84 463.90,350.24 463.90,350.24 463.90,351.68 463.90,351.68 463.90,351.74 463.90,351.74 463.90,352.96 463.90,352.96 463.90,354.57 463.90,354.57 463.90,354.50 463.90,354.50 463.90,355.26 463.90,355.26 463.90,357.14 463.90,357.14 463.90,356.84 463.90,356.84 463.90,358.12 463.90,358.12 463.90,359.79 463.90,359.79 463.90,359.65 463.90,359.65 463.90,361.22 463.90,361.22 463.90,361.60 463.90,361.60 463.90,363.72 463.90,363.72 463.90,362.51 463.90,362.51 463.90,363.96 463.90,363.96 463.90,364.78 463.90,364.78 463.90,365.83 463.90,365.83 463.90,367.13 463.90,367.13 463.90,368.00 463.90,368.00 463.90,369.22 463.90,369.22 463.90,369.75 463.90,369.75 463.90,369.58 463.90,369.58 463.90,370.18 463.90,370.18 463.90,371.87 463.90,371.87 463.90,373.05 463.90,373.05 463.90,373.71 463.90,373.71 463.90,375.59 463.90,375.59 463.90,375.14 463.90,375.14 463.90,376.76 463.90,376.76 463.90,377.81 463.90,377.81 463.90,378.29 463.90,378.29 463.90,378.76 463.90,378.76 463.90,380.49 463.90,380.49 463.90,379.84 463.90,379.84 463.90,381.40 463.90,381.40 463.90,382.18 463.90,382.18 463.90,383.93 463.90,383.93 463.90,384.37 463.90,384.37 463.90,385.27 463.90,385.27 463.90,386.90 463.90,386.90 463.90,386.78 463.90,386.78 463.90,388.51 463.90,388.51 463.90,389.14 463.90,389.14 463.90,389.84 463.90,389.84 463.90,389.87 463.90,389.87 463.90,391.76 463.90,391.76 463.90,392.02 463.90,392.02 463.90,393.73 463.90,393.73 463.90,395.96 463.90,395.96 463.90,395.21 463.90,395.21 463.90,396.73 463.90,396.73 463.90,397.93 463.90,397.93 463.90,397.80 463.90,397.80 463.90,399.84 463.90,399.84 463.90,399.97 463.90,399.97 463.90,400.41 463.90,400.41 463.90,401.65 463.90,401.65 463.90,401.47 463.90,401.47 463.90,401.90 463.90,401.90 463.90,403.74 463.90,403.74 463.90,404.64 463.90,404.64 463.90,404.43 463.90,404.43 463.90,405.59 463.90,405.59 463.90,405.25 463.90,405.25 463.90,406.47 463.90,406.47 463.90,407.30 463.90,407.30 463.90,407.69 463.90,407.69 463.90,409.47 463.90,409.47 463.90,410.40 463.90,410.40 463.90,410.97 463.90,410.97 463.90,412.55 463.90,412.55 463.90,413.12 463.90,413.12 463.90,412.53 463.90,412.53 463.90,413.91 463.90,413.91 463.90,415.16 463.90,415.16 463.90,415.13 463.90,415.13 463.90,417.42 463.90,417.42 463.90,417.67 463.90,417.67 463.90,417.35 463.90,417.35 463.90,418.34 463.90,418.34 463.90,419.11 463.90,419.11 463.90,421.00 463.90,421.00 463.90,421.48 463.90,421.48 463.90,422.62 463.90,422.62 463.90,423.46 463.90,423.46 463.90,425.46 463.90,425.46 463.90,425.07 463.90,425.07 463.90,426.07 463.90,426.07 463.90,426.15 463.90,426.15 463.90,428.56 463.90,428.56 463.90,429.02 463.90,429.02 463.90,429.86 463.90,429.86 463.90,431.03 463.90,431.03 463.90,431.01 463.90,431.01 463.90,431.14 463.90,431.14 463.90,431.55 463.90,431.55 463.90,433.24 463.90,433.24 463.90,433.88 463.90,433.88 463.90,434.42 463.90,434.42 463.90,433.56 463.90,433.56 463.90,436.31 463.90,436.31 463.90,436.98 463.90,436.98 463.90,437.31 463.90,437.31 463.90,438.09 463.90,438.09 463.90,438.14 463.90,438.14 463.90,440.22 463.94,440.22 463.94,440.22 464.01,440.22 464.01,440.48 464.05,440.48 464.05,442.83 464.10,442.83 464.10,443.09 464.14,443.09 464.14,443.11 464.20,443.11 464.20,443.30 464.26,443.30 464.26,443.23 464.34,443.23 464.34,444.82 464.45,444.82 464.45,446.26 464.53,446.26 464.53,446.77 464.63,446.77 464.63,447.89 464.73,447.89 464.73,449.20 464.81,449.20 464.81,449.22 464.85,449.22 464.85,450.88 464.89,450.88 464.89,451.43 464.99,451.43 464.99,451.63 465.80,451.63 465.80,451.58 466.59,451.58 466.59,453.27 467.55,453.27 467.55,452.50 467.93,452.50 467.93,450.30 468.96,450.30 468.96,451.29 469.88,451.29 469.88,450.43 470.68,450.43 470.68,450.25 471.58,450.25 471.58,450.11 472.42,450.11 472.42,450.29 473.15,450.29 473.15,449.97 473.91,449.97 473.91,449.04 474.30,449.04 474.30,449.05 475.21,449.05 475.21,448.59 476.39,448.59 476.39,449.94 477.13,449.94 477.13,450.26 477.63,450.26 477.63,450.68 478.53,450.68 478.53,450.88 479.27,450.88 479.27,450.46 479.80,450.46 479.80,450.23 480.00,450.23 480.00,450.50" fill="none" stroke="#e78ac3" stroke-width="1.1" stroke-linejoin="round"/>
<polyline points="480.00,450.64 480.67,450.59 481.35,450.54 482.03,449.99 482.70,450.69 483.38,450.07 484.05,450.86 484.73,450.82 485.40,450.93 486.07,451.00 486.74,450.95 487.41,450.83 488.08,450.98 488.75,451.53 489.42,451.11 490.09,451.29 490.76,451.27 491.42,451.42 492.09,451.58 492.76,451.82 493.43,451.79 494.09,451.89 494.76,451.93 495.43,452.22 496.09,451.99 496.76,452.45 497.42,452.90 498.08,452.51 498.74,452.82 499.41,453.68 500.06,452.87 500.72,452.87 501.38,453.32 502.03,454.05 502.69,454.28 503.34,453.64 503.98,454.30 504.62,454.37 505.26,454.44 505.89,454.35 506.52,455.35 507.14,455.13 507.76,455.69 508.38,455.91 509.00,456.64 509.61,456.74 510.22,456.44 510.84,456.95 511.46,457.55 512.07,457.23 512.69,457.74 513.31,458.15 513.94,457.94 514.57,458.29 515.21,458.40 515.85,459.10 516.49,459.09 517.15,459.63 517.81,459.57 518.47,459.82 519.14,459.71 519.82,459.97 520.49,459.79 521.17,459.53 521.84,460.04 522.51,459.92 523.18,460.14 523.85,459.44 524.51,459.20 525.17,458.85 525.83,458.11 526.49,458.59 527.15,458.88 527.81,458.38 528.46,457.79 529.12,458.44 529.78,458.00 530.44,457.92 531.11,457.81 531.78,457.80 532.46,457.88 533.13,457.27 533.80,457.58 534.47,457.45 535.15,457.81 535.82,457.22 536.50,457.85 537.17,457.59 537.85,457.86 538.52,457.31 539.20,457.73 539.87,457.68 540.54,457.29 541.21,457.68 541.88,457.71 542.55,457.69 543.22,457.84 543.88,457.78 544.55,458.15 545.21,458.47 545.88,458.32 546.54,458.25 547.20,459.04 547.87,458.82 548.53,459.05 549.19,459.13 549.85,459.19 550.51,459.62 551.17,459.47 551.83,459.76 552.49,459.53 553.15,459.62 553.81,460.08 554.48,460.79 555.14,460.50 555.80,461.07 556.46,460.84 557.12,460.98 557.78,460.85 558.45,461.12 559.11,461.70 559.78,461.67 560.44,461.34 561.11,461.50 561.77,462.06 562.44,461.70 563.11,462.16 563.78,461.80 564.45,462.28 565.12,462.59 565.79,462.51 566.46,462.44 567.13,462.49 567.80,462.51 568.47,462.60 569.14,462.97 569.81,463.04 570.49,462.93 571.16,462.59 571.83,462.86 572.50,463.15 573.17,463.17 573.84,462.91 574.51,463.50 575.18,464.07 575.85,463.21 576.52,463.63 577.18,464.11 577.85,463.70 578.52,463.80 579.19,464.04 579.86,464.24 580.53,464.09 581.20,464.54 581.86,463.92 582.53,464.66 583.20,464.69 583.87,464.66 584.54,464.89 585.21,464.91 585.87,465.33 586.54,464.98 587.21,465.18 587.88,464.95 588.55,465.11 589.22,465.43 589.89,465.20 590.55,465.47 591.22,465.45 591.89,465.75 592.56,466.00 593.23,466.30 593.90,465.67 594.57,466.20 595.24,466.56 595.91,466.78 596.58,466.87 597.25,466.25 597.92,466.57 598.59,466.93 599.26,467.11 599.93,467.03 600.60,467.11 601.27,467.19 601.94,467.02 602.61,467.33 603.28,467.58 603.95,467.37 604.62,467.82 605.29,466.89 605.97,467.60 606.64,468.18 607.31,468.05 607.98,468.27 608.65,468.01 609.32,467.75 610.00,467.99 610.67,468.57 611.34,467.80 612.01,468.09 612.68,467.97 613.36,468.33 614.03,468.43 614.70,468.75 615.37,468.46 616.05,469.16 616.72,468.96 617.39,468.75 618.06,468.69 618.74,468.63 619.41,469.10 620.08,469.63 620.75,469.16 621.43,469.01 622.10,469.31 622.77,469.26 623.44,469.23 624.12,469.05 624.79,469.57 625.46,470.02 626.13,470.02 626.81,470.03 627.48,469.90 628.15,470.03 628.82,470.23 629.50,470.03 630.17,470.18 630.84,470.07 631.51,470.52 632.19,470.07 632.86,470.54 633.53,470.65 634.20,470.71 634.88,470.75 635.55,470.52 636.22,470.56 636.89,470.67 637.57,470.75 638.24,470.63 638.91,470.87 639.58,470.89 640.25,470.88 640.93,471.28 641.60,471.07 642.27,471.39 642.94,471.77 643.61,471.90 644.29,471.56 644.96,471.88 645.63,471.76 646.30,472.37 646.97,472.26 647.64,472.20 648.32,471.95 648.99,472.00 649.66,472.28 650.33,472.21 651.00,472.23 651.67,472.54 652.35,472.13 653.02,472.01 653.69,472.34 654.36,472.38 655.03,472.72 655.70,472.60 656.37,472.84 657.05,472.46 657.72,473.42 658.39,473.22 659.06,472.98 659.73,473.36 660.40,473.66 661.07,473.64 661.75,473.48 662.42,473.74 663.09,473.88 663.76,473.43 664.43,473.45 665.10,473.74 665.77,474.22 666.44,474.42 667.12,474.16 667.79,474.58 668.46,474.53 669.13,474.34 669.80,474.24 670.47,474.35 671.14,474.61 671.81,475.02 672.49,474.95 673.16,474.49 673.83,474.58 674.50,475.17 675.17,475.10 675.84,474.88 676.51,475.37 677.19,475.62 677.86,475.55 678.53,475.45 679.20,475.84" fill="none" stroke="#e78ac3" stroke-width="1.25" stroke-dasharray="3.5,2.2" stroke-linejoin="round"/>
<polyline points="463.20,495.00 463.22,495.00 463.22,495.34 463.24,495.34 463.24,493.72 463.26,493.72 463.26,493.82 463.30,493.82 463.30,491.33 463.31,491.33 463.31,491.85 463.35,491.85 463.35,489.75 463.36,489.75 463.36,489.53 463.39,489.53 463.39,489.55 463.42,489.55 463.42,487.82 463.44,487.82 463.44,487.65 463.48,487.65 463.48,485.34 463.51,485.34 463.51,485.05 463.54,485.05 463.54,484.63 463.58,484.63 463.58,484.05 463.61,484.05 463.61,481.52 463.62,481.52 463.62,482.70 463.66,482.70 463.66,480.90 463.69,480.90 463.69,480.95 463.72,480.95 463.72,478.63 463.74,478.63 463.74,477.95 463.75,477.95 463.75,477.89 463.79,477.89 463.79,476.00 463.80,476.00 463.80,476.23 463.83,476.23 463.83,475.28 463.85,475.28 463.85,475.53 463.87,475.53 463.87,474.32 463.91,474.32 463.91,472.21 463.93,472.21 463.93,471.55 463.96,471.55 463.96,470.81 463.99,470.81 463.99,469.15 464.07,469.15 464.07,468.48 464.19,468.48 464.19,470.47 464.44,470.47 464.44,467.76 464.62,467.76 464.62,468.26 464.78,468.26 464.78,466.46 464.92,466.46 464.92,466.10 465.20,466.10 465.20,464.19 465.43,464.19 465.43,465.04 465.62,465.04 465.62,463.28 465.74,463.28 465.74,464.01 466.02,464.01 466.02,461.67 466.18,461.67 466.18,463.48 466.43,463.48 466.43,464.60 466.70,464.60 466.70,463.93 466.84,463.93 466.84,465.63 467.13,465.63 467.13,465.90 467.40,465.90 467.40,466.91 467.92,466.91 467.92,467.99 468.88,467.99 468.88,468.21 469.49,468.21 469.49,468.40 470.44,468.40 470.44,467.19 471.17,467.19 471.17,467.80 471.81,467.80 471.81,467.38 472.74,467.38 472.74,466.81 473.42,466.81 473.42,466.09 474.36,466.09 474.36,466.46 475.43,466.46 475.43,468.34 476.04,468.34 476.04,465.61 476.60,465.61 476.60,465.97 477.24,465.97 477.24,465.43 477.97,465.43 477.97,466.65 478.94,466.65 478.94,466.74 479.68,466.74 479.68,466.34 480.62,466.34 480.62,466.56 481.80,466.56 481.80,465.14 482.38,465.14 482.38,466.08 483.37,466.08 483.37,464.43 484.14,464.43 484.14,465.70 484.87,465.70 484.87,465.54 485.73,465.54 485.73,464.14 486.00,464.14 486.00,465.43 486.31,465.43 486.31,464.81 486.60,464.81 486.60,465.16 487.02,465.16 487.02,465.95 487.30,465.95 487.30,466.63 487.50,466.63 487.50,466.99 487.71,466.99 487.71,467.98 488.00,467.98 488.00,468.60" fill="none" stroke="#a6d854" stroke-width="1.1" stroke-linejoin="round"/>
<polyline points="488.00,468.94 488.64,468.62 489.27,468.15 489.91,468.39 490.55,468.36 491.19,468.41 491.83,468.64 492.47,468.20 493.11,468.80 493.74,468.31 494.38,468.59 495.02,468.89 495.66,468.88 496.30,468.58 496.94,469.24 497.58,468.93 498.22,468.64 498.85,468.93 499.49,468.76 500.13,469.12 500.77,468.72 501.41,469.21 502.05,468.69 502.69,469.45 503.33,469.28 503.97,469.59 504.60,469.11 505.24,468.81 505.88,469.02 506.52,469.34 507.16,469.93 507.80,469.61 508.44,469.83 509.08,469.32 509.72,469.44 510.36,469.51 511.00,469.92 511.64,469.51 512.28,469.61 512.92,470.11 513.56,469.50 514.19,469.73 514.83,469.42 515.47,469.72 516.11,470.00 516.75,470.10 517.39,469.47 518.03,469.20 518.67,469.97 519.31,470.27 519.95,469.68 520.59,469.93 521.23,469.88 521.87,469.34 522.51,469.22 523.15,469.88 523.79,470.03 524.44,469.53 525.08,469.84 525.72,469.73 526.36,469.69 527.00,469.62 527.64,470.24 528.28,469.96 528.92,469.90 529.56,469.85 530.20,470.07 530.84,469.86 531.48,470.04 532.12,469.82 532.76,470.11 533.40,469.95 534.04,470.18 534.68,469.66 535.32,469.87 535.96,469.78 536.60,470.50 537.24,469.97 537.88,470.12 538.51,469.73 539.15,469.94 539.79,469.78 540.43,470.20 541.07,470.01 541.71,470.66 542.35,470.09 542.99,470.60 543.63,470.35 544.27,470.54 544.91,470.22 545.55,470.47 546.19,470.49 546.82,470.37 547.46,470.75 548.10,470.29 548.74,470.66 549.38,470.70 550.02,470.82 550.66,470.56 551.29,471.06 551.93,470.72 552.57,470.84 553.21,470.80 553.85,471.00 554.48,471.24 555.12,471.92 555.76,470.59 556.40,471.53 557.04,471.58 557.67,471.77 558.31,471.52 558.95,471.63 559.59,472.01 560.23,471.64 560.87,471.71 561.50,471.72 562.14,471.88 562.78,472.26 563.42,471.64 564.06,472.20 564.70,471.38 565.33,472.12 565.97,471.94 566.61,472.41 567.25,472.34 567.89,472.37 568.53,472.36 569.17,472.34 569.80,471.79 570.44,472.41 571.08,472.03 571.72,472.67 572.36,472.27 573.00,472.48 573.64,472.38 574.28,472.56 574.92,472.62 575.56,472.73 576.20,472.32 576.84,473.05 577.48,472.42 578.12,472.67 578.75,472.06 579.39,472.84 580.03,473.04 580.67,473.12 581.31,472.98 581.95,472.99 582.59,472.73 583.23,472.82 583.87,472.89 584.51,473.00 585.15,472.72 585.79,472.92 586.43,473.17 587.07,473.10 587.71,473.05 588.35,472.90 588.99,473.20 589.63,473.19 590.27,473.54 590.91,473.20 591.55,473.46 592.19,472.90 592.83,473.70 593.47,472.93 594.11,473.27 594.75,473.22 595.39,473.18 596.03,473.27 596.67,473.23 597.31,473.41 597.95,473.47 598.59,473.71 599.23,473.75 599.87,473.90 600.51,473.60 601.15,473.30 601.78,474.10 602.42,473.68 603.06,472.93 603.70,473.77 604.34,473.56 604.98,473.44 605.62,473.48 606.26,473.67 606.90,473.47 607.54,473.75 608.18,473.67 608.82,473.69 609.46,473.86 610.10,473.85 610.74,474.19 611.38,473.93 612.02,473.59 612.66,473.85 613.30,474.29 613.94,474.32 614.58,473.71 615.22,474.10 615.86,473.83 616.50,473.90 617.14,473.60 617.78,473.60 618.42,473.95 619.06,474.11 619.70,474.19 620.34,473.87 620.98,474.05 621.62,474.16 622.26,474.11 622.90,473.47 623.54,473.92 624.18,474.23 624.82,474.37 625.46,474.02 626.10,474.52 626.74,473.55 627.38,474.62 628.02,474.15 628.66,474.35 629.30,474.13 629.94,474.09 630.58,474.33 631.22,474.44 631.86,474.17 632.50,474.67 633.14,474.38 633.78,474.53 634.41,474.35 635.05,474.38 635.69,474.56 636.33,474.25 636.97,474.78 637.61,474.31 638.25,474.75 638.89,474.39 639.53,474.64 640.17,474.53 640.81,475.04 641.45,475.18 642.09,474.67 642.73,474.91 643.37,474.87 644.01,475.02 644.65,475.12 645.29,475.34 645.93,474.92 646.57,474.47 647.21,475.12 647.85,474.87 648.49,474.95 649.13,475.32 649.77,475.41 650.41,475.07 651.05,475.38 651.69,475.20 652.33,475.32 652.97,475.10 653.61,475.49 654.25,475.03 654.89,475.21 655.53,475.45 656.17,474.99 656.81,475.35 657.45,475.39 658.09,475.50 658.73,475.75 659.37,474.81 660.01,475.60 660.65,475.47 661.29,475.69 661.93,475.60 662.57,475.28 663.21,475.32 663.85,475.23 664.48,475.81 665.12,475.37 665.76,475.62 666.40,475.50 667.04,475.07 667.68,475.52 668.32,475.58 668.96,476.00 669.60,475.60 670.24,475.40 670.88,475.56 671.52,475.93 672.16,475.89 672.80,475.90 673.44,475.96 674.08,475.60 674.72,476.06 675.36,475.94 676.00,475.35 676.64,475.74 677.28,476.24 677.92,475.79 678.56,475.86 679.20,475.99" fill="none" stroke="#a6d854" stroke-width="1.25" stroke-dasharray="3.5,2.2" stroke-linejoin="round"/>
<polyline points="463.50,285.04 465.14,284.93 466.78,285.15 468.43,285.28 470.07,285.41 471.71,285.20 473.35,285.06 475.00,285.01 476.64,285.31 478.28,285.48 479.92,285.20 481.57,284.90 483.21,284.95 484.85,285.46 486.49,285.18 488.14,284.80 489.78,285.14 491.42,284.94 493.06,285.07 494.70,285.17 495.16,285.57 495.97,286.40 497.59,286.55 499.23,286.55 500.87,286.80 502.51,286.92 504.16,286.45 505.80,286.75 507.44,286.61 509.08,286.79 510.72,286.57 512.37,286.84 514.01,286.84 515.65,286.80 517.29,286.66 518.94,286.81 520.58,286.69 522.22,286.66 523.86,286.99 525.51,286.75 527.15,287.25 528.79,287.25 530.42,286.85 532.05,287.51 533.67,287.50 535.29,288.02 536.91,288.29 538.53,288.12 540.16,288.67 541.80,288.83 543.43,289.23 545.07,288.94 546.71,289.46 548.34,289.22 549.98,289.51 551.62,289.55 553.25,290.15 554.89,290.13 556.52,290.67 558.15,290.50 559.78,290.74 561.41,290.98 563.03,290.94 564.65,291.32 566.27,291.89 567.88,291.84 569.50,292.26 571.11,292.53 572.72,292.96 574.34,293.07 575.95,293.41 577.57,293.77 579.19,294.00 580.82,294.02 582.45,294.53 584.09,294.18 585.74,294.22 587.38,294.20 589.02,294.71 590.65,294.61 592.28,294.70 593.90,294.93 595.52,295.55 597.12,295.58 598.73,295.88 600.34,296.60 601.94,296.58 603.55,297.10 605.15,297.51 606.76,297.78 608.36,298.22 609.96,298.85 611.56,298.85 613.16,299.07 614.76,299.33 616.36,300.04 617.96,300.40 619.55,300.94 621.13,301.22 622.71,301.66 624.29,302.08 625.85,302.63 627.38,303.36 628.89,303.90 630.37,304.71 631.82,305.83 633.25,306.36 634.65,306.80 636.03,308.35 637.41,308.97 638.78,309.62 640.16,310.88 641.54,311.59 642.93,312.34 644.31,313.22 645.70,314.03 647.08,315.13 648.45,316.24 649.81,316.87 651.17,317.95 652.50,319.20 653.79,319.59 655.01,320.99 656.05,322.15 656.85,323.42 657.52,324.93 658.38,326.54 659.24,328.02 660.10,329.23 660.96,330.75 661.83,332.27 662.71,333.58 663.57,335.09 664.41,336.41 665.21,337.85 665.95,339.59 666.63,340.84 667.22,342.28 667.76,343.94 668.28,345.17 668.79,346.85 669.26,348.65 669.72,350.20 670.15,351.97 670.55,353.25 670.93,354.56 671.29,356.84 671.65,358.27 671.99,359.45 672.32,361.54 672.63,362.89 672.94,364.13 673.22,366.03 673.49,367.63 673.74,369.67 673.97,370.82 674.19,372.56 674.40,374.18 674.60,375.79 674.80,377.32 674.98,379.17 675.16,380.98 675.34,382.52 675.51,383.84 675.69,385.43 675.87,387.32 676.04,388.79 676.20,390.43 676.36,391.86 676.49,394.22 676.62,395.65 676.73,396.91 676.83,398.93 676.92,400.66 677.00,401.55 677.08,403.56 677.16,405.23 677.23,407.08 677.29,408.57 677.36,410.19 677.42,411.86 677.48,413.89 677.53,415.59 677.59,416.69 677.64,418.25 677.69,420.62 677.75,421.53 677.80,423.25 677.85,425.01 677.90,426.74 677.95,428.49 678.00,430.01 678.05,431.40 678.09,433.31 678.14,434.90 678.19,436.87 678.23,438.14 678.28,439.51 678.32,441.21 678.36,443.35 678.41,444.60 678.45,445.93 678.49,447.87 678.53,449.63 678.58,451.51 678.62,452.71 678.66,454.69 678.70,456.36 678.74,457.70 678.78,459.44 678.82,461.48 678.87,463.11 678.91,464.58 678.95,466.12 678.99,467.92 679.03,469.30 679.07,470.96 679.12,472.44 679.16,474.26 679.20,475.88" fill="none" stroke="#66c2a5" stroke-width="1.35" stroke-linejoin="round"/>
<polyline points="463.50,285.41 465.10,285.52 466.70,284.58 468.30,284.97 469.90,285.11 471.50,285.12 473.11,284.96 474.71,285.21 476.28,285.25 477.43,286.36 477.70,287.86 477.68,289.21 478.50,290.42 479.91,289.92 481.48,289.44 483.08,289.71 484.68,289.67 486.29,289.73 487.89,289.34 489.49,289.61 491.09,289.13 492.70,289.14 494.30,289.30 495.90,289.32 497.50,288.92 499.11,288.87 500.71,289.25 502.31,288.97 503.91,289.35 505.51,289.14 507.12,289.08 508.72,289.01 510.32,289.10 511.92,288.85 513.53,289.05 515.13,288.69 516.73,288.71 518.33,288.59 519.93,288.82 521.54,288.69 523.14,288.49 524.74,289.13 526.27,289.09 527.38,290.27 528.62,291.36 530.19,291.95 531.79,291.64 533.39,291.79 534.99,291.62 536.59,291.27 538.20,291.71 539.80,291.80 541.40,291.60 543.00,291.70 544.60,291.46 546.21,291.52 547.81,291.81 549.41,292.08 551.01,291.94 552.61,292.17 554.21,292.41 555.81,292.34 557.41,292.56 559.00,292.89 560.59,292.53 562.18,293.12 563.77,292.83 565.36,293.53 566.94,293.75 568.51,293.88 570.09,294.05 571.67,294.54 573.25,294.76 574.82,295.15 576.40,295.23 577.98,295.80 579.56,295.73 581.15,296.09 582.74,296.24 584.34,296.70 585.94,296.24 587.54,296.55 589.14,297.02 590.73,296.86 592.32,296.90 593.92,297.34 595.50,297.47 597.05,298.09 598.57,298.25 600.06,299.07 601.52,299.83 602.96,300.60 604.40,300.88 605.82,302.13 607.24,302.41 608.65,303.05 610.06,303.93 611.46,304.92 612.86,305.61 614.26,306.54 615.66,307.34 617.05,308.09 618.44,308.77 619.84,309.97 621.23,309.96 622.63,310.84 624.01,311.89 625.39,312.56 626.74,313.16 628.07,314.42 629.36,315.37 630.63,316.01 631.87,317.68 633.09,318.81 634.29,319.86 635.47,320.60 636.64,321.82 637.81,322.67 638.96,324.04 640.12,324.98 641.28,326.30 642.44,327.26 643.59,328.65 644.72,329.75 645.82,330.99 646.89,331.61 647.92,332.80 648.91,334.51 649.85,335.61 650.76,337.12 651.65,338.43 652.53,339.75 653.39,341.25 654.25,342.53 655.12,343.86 656.00,344.92 656.90,346.77 657.81,347.77 658.72,349.29 659.61,350.47 660.49,351.99 661.41,353.08 662.20,354.49 662.81,355.95 663.30,357.31 663.72,358.88 664.12,360.52 664.52,362.08 664.95,363.45 665.43,365.65 665.96,366.49 666.53,368.12 667.12,370.16 667.71,371.03 668.29,372.81 668.85,374.29 669.36,375.64 669.83,376.93 670.27,378.44 670.68,380.30 671.07,381.94 671.43,382.99 671.77,385.02 672.09,386.42 672.39,388.31 672.67,389.74 672.93,391.13 673.17,392.79 673.41,394.47 673.64,396.31 673.86,398.24 674.09,399.29 674.31,400.83 674.54,402.53 674.76,403.99 674.97,405.71 675.18,407.25 675.39,408.76 675.59,410.19 675.79,411.98 675.98,413.72 676.17,415.14 676.35,417.02 676.53,418.50 676.70,419.88 676.87,421.85 677.03,422.87 677.19,424.93 677.33,426.66 677.47,427.83 677.60,429.46 677.72,431.27 677.83,432.97 677.94,434.37 678.05,435.93 678.15,437.66 678.25,439.13 678.34,440.44 678.43,442.24 678.51,443.88 678.59,445.18 678.66,447.16 678.72,448.53 678.78,450.43 678.83,451.59 678.88,453.31 678.91,454.80 678.95,456.95 678.98,458.55 679.00,460.19 679.02,461.80 679.04,463.28 679.06,464.88 679.08,465.97 679.10,467.98 679.12,469.41 679.14,471.05 679.15,472.47 679.18,474.58 679.20,475.96" fill="none" stroke="#fc8d62" stroke-width="1.35" stroke-linejoin="round"/>
<polyline points="463.30,286.00 464.37,286.63 464.72,288.06 464.96,289.50 465.17,291.16 465.38,292.62 465.60,294.39 465.85,296.21 466.16,297.40 466.93,298.44 467.68,297.30 468.23,295.79 468.85,294.28 469.79,292.82 471.34,293.08 472.80,293.82 474.24,294.07 475.71,294.83 477.21,295.06 478.71,295.66 480.22,296.02 481.74,296.80 483.25,297.05 484.77,297.81 486.28,298.24 487.80,298.62 489.32,298.59 490.84,299.43 492.36,299.95 493.89,300.41 495.41,300.50 496.94,301.12 498.47,301.41 500.00,301.84 501.54,302.57 503.09,302.55 504.63,303.04 506.18,303.55 507.73,303.56 509.29,303.95 510.84,304.29 512.40,304.57 513.95,304.60 515.51,305.15 517.06,305.70 518.61,305.42 520.17,306.21 521.72,306.37 523.27,306.53 524.82,307.37 526.37,307.44 527.92,307.36 529.47,307.93 531.02,308.35 532.57,308.51 534.12,309.01 535.66,309.18 537.21,309.65 538.76,310.13 540.31,310.03 541.85,310.54 543.40,310.75 544.94,311.21 546.49,311.29 548.03,311.76 549.57,312.19 551.12,312.76 552.66,313.15 554.20,313.00 555.75,313.44 557.29,314.07 558.84,313.86 560.39,314.48 561.94,314.86 563.50,315.43 565.05,315.61 566.61,315.69 568.17,315.96 569.72,316.26 571.28,316.90 572.84,316.78 574.39,317.09 575.95,317.50 577.51,317.69 579.06,317.98 580.61,318.11 582.16,318.66 583.70,318.93 585.23,319.64 586.76,319.94 588.29,320.19 589.83,320.70 591.39,320.80 592.95,321.31 594.52,321.32 596.07,321.71 597.62,321.68 599.14,322.42 600.66,322.48 602.16,322.91 603.65,323.78 605.14,324.20 606.62,324.96 608.10,325.93 609.58,325.87 611.06,326.47 612.54,327.20 614.02,327.81 615.50,328.24 616.98,328.78 618.47,329.50 619.96,329.99 621.47,330.16 622.99,330.78 624.53,331.17 626.08,331.29 627.61,331.94 629.10,332.24 630.54,333.26 631.94,333.83 633.32,334.60 634.67,335.29 635.99,336.25 637.28,336.79 638.55,337.91 639.78,339.20 640.97,339.74 642.09,341.45 643.16,342.10 644.20,343.79 645.23,344.67 646.28,346.18 647.37,347.19 648.50,347.97 649.67,349.59 650.87,350.66 652.08,351.38 653.29,352.35 654.50,353.39 655.71,354.25 656.91,355.70 658.07,356.44 659.20,357.64 660.26,358.67 661.18,359.99 661.96,361.23 662.58,363.19 663.12,364.40 663.74,366.07 664.51,367.27 665.37,368.45 666.25,369.84 667.11,371.12 667.86,372.62 668.53,373.98 669.13,375.46 669.68,376.73 670.21,378.33 670.71,380.33 671.18,381.37 671.62,382.81 672.01,384.62 672.36,386.38 672.68,387.36 672.98,389.16 673.27,390.63 673.56,391.96 673.87,394.01 674.18,395.41 674.43,396.99 674.64,398.39 674.81,400.21 674.97,401.58 675.13,403.24 675.27,404.62 675.42,406.17 675.56,408.26 675.69,409.46 675.82,411.20 675.95,412.71 676.07,414.21 676.19,415.77 676.31,417.58 676.43,418.97 676.54,420.57 676.65,422.19 676.76,424.00 676.87,425.48 676.97,426.99 677.07,428.38 677.17,429.80 677.27,431.84 677.37,433.43 677.46,434.78 677.55,436.50 677.64,438.13 677.72,439.72 677.81,441.31 677.89,442.62 677.96,444.59 678.04,445.62 678.11,447.62 678.18,449.13 678.25,450.78 678.32,452.57 678.38,454.07 678.44,455.12 678.50,456.59 678.56,458.68 678.62,459.89 678.68,461.67 678.73,463.42 678.79,464.51 678.85,465.99 678.91,468.05 678.96,469.59 679.02,471.11 679.08,472.75 679.14,474.15 679.20,475.60" fill="none" stroke="#8da0cb" stroke-width="1.35" stroke-linejoin="round"/>
<polyline points="463.30,289.65 463.30,288.27 463.28,286.81 463.64,286.19 463.98,287.22 464.34,289.06 464.92,290.25 465.90,291.66 467.28,292.13 468.73,292.37 470.18,292.45 471.59,292.64 472.98,293.28 474.35,293.92 475.70,294.04 477.06,294.84 478.41,295.27 479.76,296.13 481.10,296.24 482.45,296.91 483.80,297.61 485.15,298.15 486.50,298.33 487.85,299.28 489.21,299.72 490.57,300.21 491.95,300.72 493.35,301.23 494.76,301.20 496.17,302.24 497.58,302.15 498.97,302.31 500.36,303.21 501.73,304.01 503.11,304.11 504.48,305.03 505.85,305.54 507.22,305.57 508.58,305.76 509.95,306.52 511.32,307.51 512.69,307.62 514.06,307.98 515.44,308.52 516.81,309.28 518.19,309.76 519.57,310.42 520.95,310.91 522.34,310.99 523.73,311.59 525.12,311.84 526.52,312.51 527.92,312.69 529.31,313.11 530.71,314.20 532.11,314.20 533.51,314.75 534.90,315.56 536.30,315.65 537.69,315.92 539.08,316.41 540.46,316.71 541.85,317.54 543.23,317.73 544.61,318.62 545.99,318.68 547.37,319.15 548.75,319.63 550.13,320.32 551.50,320.73 552.88,321.46 554.25,321.58 555.62,322.27 556.98,323.11 558.34,323.20 559.71,323.89 561.06,324.65 562.41,324.99 563.76,325.33 565.10,325.61 566.44,327.09 567.78,327.28 569.12,328.04 570.45,328.29 571.78,329.34 573.12,329.68 574.45,330.18 575.79,330.58 577.12,331.43 578.46,331.84 579.81,332.47 581.15,332.75 582.51,333.53 583.87,334.20 585.23,334.45 586.59,335.24 587.95,335.88 589.32,336.21 590.68,336.68 592.04,337.21 593.39,338.08 594.74,338.14 596.08,338.98 597.41,339.55 598.72,340.31 600.04,340.91 601.32,341.39 602.61,342.71 603.87,343.07 605.14,343.50 606.39,344.35 607.64,345.30 608.88,346.18 610.12,346.56 611.35,347.75 612.58,348.12 613.81,349.03 615.04,350.15 616.27,351.10 617.50,351.53 618.74,352.26 619.99,353.34 621.24,353.62 622.50,354.63 623.78,355.34 625.05,356.20 626.33,356.78 627.58,357.41 628.81,358.37 630.04,358.82 631.27,360.00 632.49,360.50 633.71,361.25 634.92,362.18 636.12,363.11 637.28,364.13 638.40,364.88 639.48,366.05 640.49,367.15 641.42,368.06 642.28,369.07 643.08,370.67 643.84,371.79 644.61,372.55 645.39,374.01 646.21,375.45 647.08,376.32 648.03,377.57 649.06,378.39 650.14,379.80 651.26,380.71 652.40,381.60 653.57,382.74 654.74,383.26 655.91,384.14 657.08,385.48 658.23,385.71 659.35,387.06 660.41,387.66 661.39,389.05 662.26,390.59 662.99,391.49 663.65,392.58 664.34,394.51 664.98,395.23 665.57,396.64 666.12,398.09 666.66,399.12 667.20,400.97 667.74,402.43 668.28,403.61 668.81,404.89 669.34,406.16 669.85,407.73 670.35,408.29 670.84,410.28 671.30,411.74 671.74,412.69 672.15,414.57 672.55,415.86 672.93,417.29 673.28,418.74 673.62,420.25 673.95,421.65 674.26,422.78 674.56,424.40 674.85,425.82 675.13,427.29 675.39,428.61 675.64,430.36 675.88,431.87 676.11,433.35 676.33,434.87 676.54,436.24 676.75,437.29 676.94,438.71 677.14,440.20 677.32,441.84 677.50,443.15 677.67,444.83 677.83,446.41 677.98,447.45 678.12,449.19 678.25,450.37 678.37,451.65 678.47,453.11 678.56,454.75 678.64,455.90 678.71,457.84 678.76,459.50 678.82,460.42 678.86,462.05 678.91,463.89 678.95,465.11 678.99,466.54 679.03,467.91 679.07,469.62 679.11,470.95 679.15,472.12 679.20,473.31" fill="none" stroke="#e78ac3" stroke-width="1.35" stroke-linejoin="round"/>
<line x1="463" y1="495" x2="463" y2="285" stroke="#a6d854" stroke-width="1.35"/>
<polyline points="463.00,284.84 463.50,286.39 463.92,287.38 464.47,289.16 465.31,290.42 466.39,291.02 467.62,291.93 468.93,292.49 470.25,292.91 471.57,293.36 472.90,293.67 474.22,294.91 475.55,295.15 476.88,296.19 478.21,296.37 479.55,296.78 480.88,297.11 482.22,298.04 483.56,298.18 484.89,299.11 486.23,299.24 487.56,299.88 488.89,300.07 490.21,301.39 491.52,301.48 492.82,302.03 494.09,302.93 495.35,303.27 496.63,304.25 497.93,304.45 499.26,305.32 500.61,305.50 501.96,305.81 503.32,306.50 504.69,306.76 506.06,307.58 507.43,307.89 508.80,308.40 510.17,308.73 511.54,309.05 512.91,309.54 514.28,310.16 515.65,310.34 517.02,310.66 518.38,311.06 519.73,311.67 521.09,312.03 522.44,313.03 523.79,312.90 525.13,313.41 526.48,314.06 527.82,314.75 529.16,315.07 530.50,315.44 531.84,315.98 533.18,316.58 534.51,317.36 535.85,317.49 537.18,318.18 538.52,318.60 539.85,319.31 541.19,319.85 542.52,320.00 543.85,321.30 545.18,321.40 546.50,321.80 547.83,322.26 549.16,322.93 550.48,323.53 551.81,324.19 553.13,324.61 554.46,325.25 555.78,325.37 557.11,326.08 558.44,326.57 559.77,327.34 561.10,327.92 562.43,328.06 563.77,328.83 565.11,329.52 566.45,330.06 567.79,330.16 569.13,331.00 570.47,331.47 571.80,331.82 573.14,332.82 574.47,332.73 575.80,333.44 577.12,334.14 578.43,334.66 579.75,335.15 581.05,336.06 582.35,336.68 583.64,337.19 584.93,337.83 586.21,338.26 587.49,338.68 588.76,340.01 590.04,340.03 591.30,341.34 592.57,341.53 593.84,342.27 595.10,342.86 596.37,343.76 597.63,344.14 598.90,345.28 600.16,345.69 601.43,346.29 602.69,346.82 603.95,347.67 605.21,348.29 606.47,349.36 607.73,349.85 608.98,350.04 610.24,351.34 611.49,351.25 612.75,352.73 614.00,352.74 615.25,353.81 616.50,354.68 617.75,355.22 618.99,355.71 620.24,356.88 621.48,356.99 622.72,357.76 623.97,359.04 625.20,359.32 626.41,360.32 627.58,361.25 628.73,361.92 629.86,362.88 630.98,363.74 632.08,364.67 633.18,365.79 634.26,366.68 635.33,367.51 636.38,368.60 637.42,369.29 638.45,370.25 639.45,371.22 640.42,372.63 641.36,373.88 642.26,374.69 643.12,375.42 643.97,376.87 644.80,378.23 645.63,379.36 646.47,380.48 647.33,381.80 648.22,382.91 649.14,383.55 650.08,384.99 651.03,385.83 651.98,387.09 652.95,388.35 653.92,389.53 654.89,390.35 655.87,391.16 656.86,392.22 657.91,393.37 658.97,394.03 659.92,395.28 660.73,396.60 661.37,397.94 661.92,399.02 662.46,400.48 662.98,402.01 663.50,403.14 664.00,404.07 664.50,405.80 664.99,407.15 665.49,408.36 665.98,409.80 666.47,410.84 666.97,412.73 667.47,413.91 667.97,415.05 668.48,416.55 668.99,417.87 669.48,419.01 669.96,420.00 670.41,421.33 670.85,423.66 671.27,424.40 671.68,425.94 672.08,427.49 672.48,428.68 672.86,430.37 673.24,431.32 673.60,433.01 673.96,433.87 674.31,435.82 674.64,437.21 674.95,438.54 675.25,439.93 675.53,441.32 675.80,442.85 676.05,444.28 676.30,445.31 676.53,447.12 676.76,448.13 676.98,449.77 677.20,451.10 677.42,452.67 677.62,453.92 677.82,455.49 678.00,456.73 678.17,458.06 678.33,459.89 678.46,461.21 678.58,462.63 678.68,464.15 678.77,465.17 678.84,467.00 678.90,468.03 678.96,469.75 679.02,471.07 679.07,472.59 679.13,474.11 679.20,475.40" fill="none" stroke="#a6d854" stroke-width="1.35" stroke-linejoin="round"/>
<line x1="460.7" y1="280.7" x2="460.7" y2="498.09999999999997" stroke="#222" stroke-width="1.4"/>
<line x1="460.0" y1="497.4" x2="683.8" y2="497.4" stroke="#222" stroke-width="1.4"/>
<line x1="467" y1="367.1" x2="483" y2="367.1" stroke="#66c2a5" stroke-width="1.2"/>
<text x="490.7" y="369.70000000000005" font-size="7.4" text-anchor="start" fill="#000">FEA4 avg precision = 0.93</text>
<line x1="467" y1="377.78000000000003" x2="483" y2="377.78000000000003" stroke="#fc8d62" stroke-width="1.2"/>
<text x="490.7" y="380.38000000000005" font-size="7.4" text-anchor="start" fill="#000">KN1 avg precision = 0.89</text>
<line x1="467" y1="388.46000000000004" x2="483" y2="388.46000000000004" stroke="#8da0cb" stroke-width="1.2"/>
<text x="490.7" y="391.06000000000006" font-size="7.4" text-anchor="start" fill="#000">MNAse Shoot avg precision = 0.82</text>
<line x1="467" y1="399.14000000000004" x2="483" y2="399.14000000000004" stroke="#e78ac3" stroke-width="1.2"/>
<text x="490.7" y="401.74000000000007" font-size="7.4" text-anchor="start" fill="#000">MNAse Root avg precision = 0.76</text>
<line x1="467" y1="409.82000000000005" x2="483" y2="409.82000000000005" stroke="#a6d854" stroke-width="1.2"/>
<text x="490.7" y="412.4200000000001" font-size="7.4" text-anchor="start" fill="#000">Core Promoters avg precision = 0.74</text>
</svg>
</body></html>
